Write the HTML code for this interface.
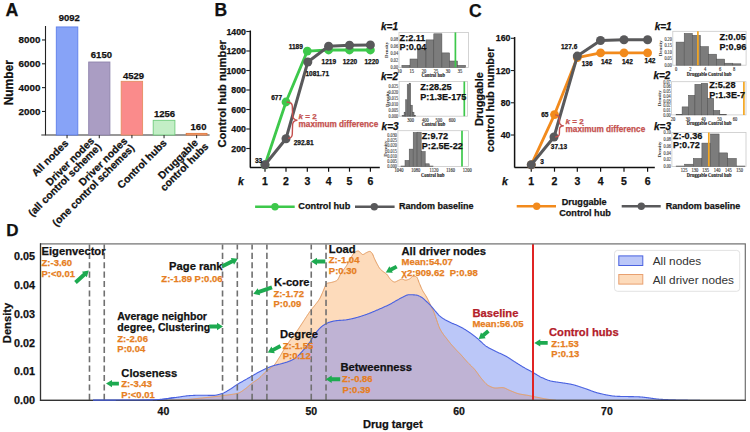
<!DOCTYPE html>
<html><head><meta charset="utf-8"><style>
html,body{margin:0;padding:0;background:#fff;}
svg{display:block;}
</style></head><body>
<svg width="750" height="432" viewBox="0 0 750 432">
<rect width="750" height="432" fill="#fff"/>
<text x="5.60" y="16.20" font-family='"Liberation Sans", sans-serif' font-size="17.8" font-weight="bold" font-style="normal" fill="#111" text-anchor="start" stroke="#111" stroke-width="0.25" >A</text>
<line x1="45.50" y1="26.00" x2="45.50" y2="135.30" stroke="#222" stroke-width="1.1" />
<line x1="41.30" y1="135.00" x2="209.60" y2="135.00" stroke="#333" stroke-width="1.2" />
<line x1="42.00" y1="111.47" x2="45.50" y2="111.47" stroke="#222" stroke-width="1.1" />
<text x="40.40" y="114.57" font-family='"Liberation Sans", sans-serif' font-size="9.8" font-weight="bold" font-style="normal" fill="#111" text-anchor="end" stroke="#111" stroke-width="0.25" >2000</text>
<line x1="42.00" y1="87.63" x2="45.50" y2="87.63" stroke="#222" stroke-width="1.1" />
<text x="40.40" y="90.73" font-family='"Liberation Sans", sans-serif' font-size="9.8" font-weight="bold" font-style="normal" fill="#111" text-anchor="end" stroke="#111" stroke-width="0.25" >4000</text>
<line x1="42.00" y1="63.80" x2="45.50" y2="63.80" stroke="#222" stroke-width="1.1" />
<text x="40.40" y="66.90" font-family='"Liberation Sans", sans-serif' font-size="9.8" font-weight="bold" font-style="normal" fill="#111" text-anchor="end" stroke="#111" stroke-width="0.25" >6000</text>
<line x1="42.00" y1="39.96" x2="45.50" y2="39.96" stroke="#222" stroke-width="1.1" />
<text x="40.40" y="43.06" font-family='"Liberation Sans", sans-serif' font-size="9.8" font-weight="bold" font-style="normal" fill="#111" text-anchor="end" stroke="#111" stroke-width="0.25" >8000</text>
<text x="0.00" y="0.00" font-family='"Liberation Sans", sans-serif' font-size="12" font-weight="bold" font-style="normal" fill="#111" text-anchor="middle" stroke="#111" stroke-width="0.25" transform="translate(13.2,82.7) rotate(-90)">Number</text>
<rect x="56.30" y="26.95" width="21.50" height="108.05" fill="#87A3F7" stroke="#5E7FEA" stroke-width="0.9" />
<text x="69.30" y="20.80" font-family='"Liberation Sans", sans-serif' font-size="9.5" font-weight="bold" font-style="normal" fill="#111" text-anchor="middle" stroke="#111" stroke-width="0.25" >9092</text>
<line x1="67.05" y1="135.00" x2="67.05" y2="138.30" stroke="#333" stroke-width="1.1" />
<rect x="88.70" y="62.01" width="21.20" height="72.99" fill="#AA9DC3" stroke="#8E83AC" stroke-width="0.9" />
<text x="101.40" y="58.40" font-family='"Liberation Sans", sans-serif' font-size="9.5" font-weight="bold" font-style="normal" fill="#111" text-anchor="middle" stroke="#111" stroke-width="0.25" >6150</text>
<line x1="99.30" y1="135.00" x2="99.30" y2="138.30" stroke="#333" stroke-width="1.1" />
<rect x="121.20" y="81.33" width="21.40" height="53.67" fill="#FA8B8B" stroke="#E58C62" stroke-width="0.9" />
<text x="133.50" y="79.20" font-family='"Liberation Sans", sans-serif' font-size="9.5" font-weight="bold" font-style="normal" fill="#111" text-anchor="middle" stroke="#111" stroke-width="0.25" >4529</text>
<line x1="131.90" y1="135.00" x2="131.90" y2="138.30" stroke="#333" stroke-width="1.1" />
<rect x="153.20" y="120.33" width="21.70" height="14.67" fill="#C3EEC6" stroke="#6FCB7C" stroke-width="0.9" />
<text x="164.50" y="117.10" font-family='"Liberation Sans", sans-serif' font-size="9.5" font-weight="bold" font-style="normal" fill="#111" text-anchor="middle" stroke="#111" stroke-width="0.25" >1256</text>
<line x1="164.05" y1="135.00" x2="164.05" y2="138.30" stroke="#333" stroke-width="1.1" />
<rect x="186.20" y="133.39" width="20.80" height="1.61" fill="#F2A57C" stroke="#E0783E" stroke-width="0.9" />
<text x="198.50" y="130.10" font-family='"Liberation Sans", sans-serif' font-size="9.5" font-weight="bold" font-style="normal" fill="#111" text-anchor="middle" stroke="#111" stroke-width="0.25" >160</text>
<line x1="196.60" y1="135.00" x2="196.60" y2="138.30" stroke="#333" stroke-width="1.1" />
<text transform="translate(69.00,144.00) rotate(-45)" font-family='"Liberation Sans", sans-serif' font-size="10.4" font-weight="bold" fill="#111" stroke="#111" stroke-width="0.25" text-anchor="end">All nodes</text>
<text transform="translate(94.90,141.50) rotate(-45)" font-family='"Liberation Sans", sans-serif' font-size="10.4" font-weight="bold" fill="#111" stroke="#111" stroke-width="0.25" text-anchor="end">Driver nodes</text>
<text transform="translate(101.90,147.60) rotate(-45)" font-family='"Liberation Sans", sans-serif' font-size="10.4" font-weight="bold" fill="#111" stroke="#111" stroke-width="0.25" text-anchor="end">(all control scheme)</text>
<text transform="translate(128.00,141.60) rotate(-45)" font-family='"Liberation Sans", sans-serif' font-size="10.4" font-weight="bold" fill="#111" stroke="#111" stroke-width="0.25" text-anchor="end">Driver nodes</text>
<text transform="translate(135.00,148.60) rotate(-45)" font-family='"Liberation Sans", sans-serif' font-size="10.4" font-weight="bold" fill="#111" stroke="#111" stroke-width="0.25" text-anchor="end">(one control schemes)</text>
<text transform="translate(167.30,143.60) rotate(-45)" font-family='"Liberation Sans", sans-serif' font-size="10.4" font-weight="bold" fill="#111" stroke="#111" stroke-width="0.25" text-anchor="end">Control hubs</text>
<text transform="translate(198.60,143.30) rotate(-45)" font-family='"Liberation Sans", sans-serif' font-size="10.4" font-weight="bold" fill="#111" stroke="#111" stroke-width="0.25" text-anchor="end">Druggable</text>
<text transform="translate(209.00,147.20) rotate(-45)" font-family='"Liberation Sans", sans-serif' font-size="10.4" font-weight="bold" fill="#111" stroke="#111" stroke-width="0.25" text-anchor="end">control hubs</text>
<text x="214.40" y="15.50" font-family='"Liberation Sans", sans-serif' font-size="17.5" font-weight="bold" font-style="normal" fill="#111" text-anchor="start" stroke="#111" stroke-width="0.25" >B</text>
<line x1="250.30" y1="30.50" x2="250.30" y2="167.60" stroke="#111" stroke-width="1.5" />
<line x1="250.00" y1="167.40" x2="379.80" y2="167.40" stroke="#111" stroke-width="1.5" />
<line x1="246.30" y1="148.50" x2="250.00" y2="148.50" stroke="#222" stroke-width="1.1" />
<text x="246.00" y="151.70" font-family='"Liberation Sans", sans-serif' font-size="8.8" font-weight="bold" font-style="normal" fill="#111" text-anchor="end" stroke="#111" stroke-width="0.25" >200</text>
<line x1="246.30" y1="129.00" x2="250.00" y2="129.00" stroke="#222" stroke-width="1.1" />
<text x="246.00" y="132.20" font-family='"Liberation Sans", sans-serif' font-size="8.8" font-weight="bold" font-style="normal" fill="#111" text-anchor="end" stroke="#111" stroke-width="0.25" >400</text>
<line x1="246.30" y1="109.50" x2="250.00" y2="109.50" stroke="#222" stroke-width="1.1" />
<text x="246.00" y="112.70" font-family='"Liberation Sans", sans-serif' font-size="8.8" font-weight="bold" font-style="normal" fill="#111" text-anchor="end" stroke="#111" stroke-width="0.25" >600</text>
<line x1="246.30" y1="90.00" x2="250.00" y2="90.00" stroke="#222" stroke-width="1.1" />
<text x="246.00" y="93.20" font-family='"Liberation Sans", sans-serif' font-size="8.8" font-weight="bold" font-style="normal" fill="#111" text-anchor="end" stroke="#111" stroke-width="0.25" >800</text>
<line x1="246.30" y1="70.50" x2="250.00" y2="70.50" stroke="#222" stroke-width="1.1" />
<text x="246.00" y="73.70" font-family='"Liberation Sans", sans-serif' font-size="8.8" font-weight="bold" font-style="normal" fill="#111" text-anchor="end" stroke="#111" stroke-width="0.25" >1000</text>
<line x1="246.30" y1="51.00" x2="250.00" y2="51.00" stroke="#222" stroke-width="1.1" />
<text x="246.00" y="54.20" font-family='"Liberation Sans", sans-serif' font-size="8.8" font-weight="bold" font-style="normal" fill="#111" text-anchor="end" stroke="#111" stroke-width="0.25" >1200</text>
<line x1="246.30" y1="31.50" x2="250.00" y2="31.50" stroke="#222" stroke-width="1.1" />
<text x="246.00" y="34.70" font-family='"Liberation Sans", sans-serif' font-size="8.8" font-weight="bold" font-style="normal" fill="#111" text-anchor="end" stroke="#111" stroke-width="0.25" >1400</text>
<text x="0.00" y="0.00" font-family='"Liberation Sans", sans-serif' font-size="11.2" font-weight="bold" font-style="normal" fill="#111" text-anchor="middle" stroke="#111" stroke-width="0.25" transform="translate(226.0,93.8) rotate(-90)">Control hub number</text>
<line x1="265.00" y1="167.40" x2="265.00" y2="171.70" stroke="#111" stroke-width="1.2" />
<text x="265.00" y="184.50" font-family='"Liberation Sans", sans-serif' font-size="10.5" font-weight="bold" font-style="normal" fill="#111" text-anchor="middle" stroke="#111" stroke-width="0.25" >1</text>
<line x1="286.00" y1="167.40" x2="286.00" y2="171.70" stroke="#111" stroke-width="1.2" />
<text x="286.00" y="184.50" font-family='"Liberation Sans", sans-serif' font-size="10.5" font-weight="bold" font-style="normal" fill="#111" text-anchor="middle" stroke="#111" stroke-width="0.25" >2</text>
<line x1="307.30" y1="167.40" x2="307.30" y2="171.70" stroke="#111" stroke-width="1.2" />
<text x="307.30" y="184.50" font-family='"Liberation Sans", sans-serif' font-size="10.5" font-weight="bold" font-style="normal" fill="#111" text-anchor="middle" stroke="#111" stroke-width="0.25" >3</text>
<line x1="328.60" y1="167.40" x2="328.60" y2="171.70" stroke="#111" stroke-width="1.2" />
<text x="328.60" y="184.50" font-family='"Liberation Sans", sans-serif' font-size="10.5" font-weight="bold" font-style="normal" fill="#111" text-anchor="middle" stroke="#111" stroke-width="0.25" >4</text>
<line x1="349.50" y1="167.40" x2="349.50" y2="171.70" stroke="#111" stroke-width="1.2" />
<text x="349.50" y="184.50" font-family='"Liberation Sans", sans-serif' font-size="10.5" font-weight="bold" font-style="normal" fill="#111" text-anchor="middle" stroke="#111" stroke-width="0.25" >5</text>
<line x1="370.40" y1="167.40" x2="370.40" y2="171.70" stroke="#111" stroke-width="1.2" />
<text x="370.40" y="184.50" font-family='"Liberation Sans", sans-serif' font-size="10.5" font-weight="bold" font-style="normal" fill="#111" text-anchor="middle" stroke="#111" stroke-width="0.25" >6</text>
<text x="240.80" y="184.50" font-family='"Liberation Sans", sans-serif' font-size="10.5" font-weight="bold" font-style="italic" fill="#111" text-anchor="middle" stroke="#111" stroke-width="0.25" >k</text>
<polyline points="265,164.8 286,102 307.3,51.1 328.6,50 349.5,50 370.4,50" fill="none" stroke="#3DC84B" stroke-width="2.8" stroke-linejoin="round"/>
<circle cx="265.00" cy="164.80" r="4.4" fill="#3DC84B"/>
<circle cx="286.00" cy="102.00" r="4.4" fill="#3DC84B"/>
<circle cx="307.30" cy="51.10" r="4.4" fill="#3DC84B"/>
<circle cx="328.60" cy="50.00" r="4.4" fill="#3DC84B"/>
<circle cx="349.50" cy="50.00" r="4.4" fill="#3DC84B"/>
<circle cx="370.40" cy="50.00" r="4.4" fill="#3DC84B"/>
<polyline points="265,164.8 286,138.7 307.8,62 328.6,46.3 349.5,45.2 370.4,44.9" fill="none" stroke="#59595B" stroke-width="3" stroke-linejoin="round"/>
<circle cx="265.00" cy="164.80" r="4.5" fill="#59595B"/>
<circle cx="286.00" cy="138.70" r="4.5" fill="#59595B"/>
<circle cx="307.80" cy="62.00" r="4.5" fill="#59595B"/>
<circle cx="328.60" cy="46.30" r="4.5" fill="#59595B"/>
<circle cx="349.50" cy="45.20" r="4.5" fill="#59595B"/>
<circle cx="370.40" cy="44.90" r="4.5" fill="#59595B"/>
<text x="255.00" y="162.60" font-family='"Liberation Sans", sans-serif' font-size="6.5" font-weight="bold" font-style="normal" fill="#111" text-anchor="start" stroke="#111" stroke-width="0.25" >33</text>
<text x="271.20" y="100.30" font-family='"Liberation Sans", sans-serif' font-size="6.5" font-weight="bold" font-style="normal" fill="#111" text-anchor="start" stroke="#111" stroke-width="0.25" >677</text>
<text x="288.70" y="48.60" font-family='"Liberation Sans", sans-serif' font-size="6.5" font-weight="bold" font-style="normal" fill="#111" text-anchor="start" stroke="#111" stroke-width="0.25" >1189</text>
<text x="305.50" y="75.60" font-family='"Liberation Sans", sans-serif' font-size="6.5" font-weight="bold" font-style="normal" fill="#111" text-anchor="start" stroke="#111" stroke-width="0.25" >1081.71</text>
<text x="293.70" y="145.40" font-family='"Liberation Sans", sans-serif' font-size="6.5" font-weight="bold" font-style="normal" fill="#111" text-anchor="start" stroke="#111" stroke-width="0.25" >292.81</text>
<text x="328.80" y="63.80" font-family='"Liberation Sans", sans-serif' font-size="6.5" font-weight="bold" font-style="normal" fill="#111" text-anchor="middle" stroke="#111" stroke-width="0.25" >1219</text>
<text x="349.90" y="63.80" font-family='"Liberation Sans", sans-serif' font-size="6.5" font-weight="bold" font-style="normal" fill="#111" text-anchor="middle" stroke="#111" stroke-width="0.25" >1220</text>
<text x="371.70" y="63.80" font-family='"Liberation Sans", sans-serif' font-size="6.5" font-weight="bold" font-style="normal" fill="#111" text-anchor="middle" stroke="#111" stroke-width="0.25" >1220</text>
<path d="M286.6,102 Q292.3,102.3 292.3,106 L292.6,115.5 Q292.8,119.8 297.4,120.2 Q292.8,120.6 292.6,124.5 L292.3,134 Q292.2,138 288.2,138.4" fill="none" stroke="#C4504E" stroke-width="1.4"/>
<text x="298.60" y="118.60" font-family='"Liberation Sans", sans-serif' font-size="8" font-weight="bold" font-style="normal" fill="#C4504E" text-anchor="start" stroke="#C4504E" stroke-width="0.25" ><tspan font-style="italic">k</tspan> = 2</text>
<text x="298.60" y="126.80" font-family='"Liberation Sans", sans-serif' font-size="8.2" font-weight="bold" font-style="normal" fill="#C4504E" text-anchor="start" stroke="#C4504E" stroke-width="0.25" >maximum difference</text>
<line x1="255.10" y1="206.70" x2="294.70" y2="206.70" stroke="#3DC84B" stroke-width="2.6" />
<circle cx="275.00" cy="206.70" r="3.7" fill="#3DC84B"/>
<text x="298.30" y="209.20" font-family='"Liberation Sans", sans-serif' font-size="9.2" font-weight="bold" font-style="normal" fill="#111" text-anchor="start" stroke="#111" stroke-width="0.25" >Control hub</text>
<line x1="355.00" y1="206.70" x2="394.60" y2="206.70" stroke="#59595B" stroke-width="2.6" />
<circle cx="374.30" cy="206.70" r="3.7" fill="#59595B"/>
<text x="399.10" y="209.20" font-family='"Liberation Sans", sans-serif' font-size="9.0" font-weight="bold" font-style="normal" fill="#111" text-anchor="start" stroke="#111" stroke-width="0.25" >Random baseline</text>
<rect x="399.00" y="32.40" width="69.50" height="35.00" fill="#fff" stroke="#C9C9C9" stroke-width="0.8" />
<rect x="401.90" y="65.30" width="8.10" height="2.10" fill="#7C7C7C" stroke="#4E4E4E" stroke-width="0.5" />
<rect x="410.00" y="59.00" width="7.60" height="8.40" fill="#7C7C7C" stroke="#4E4E4E" stroke-width="0.5" />
<rect x="417.60" y="48.30" width="8.40" height="19.10" fill="#7C7C7C" stroke="#4E4E4E" stroke-width="0.5" />
<rect x="426.00" y="39.90" width="7.80" height="27.50" fill="#7C7C7C" stroke="#4E4E4E" stroke-width="0.5" />
<rect x="433.80" y="33.80" width="8.10" height="33.60" fill="#7C7C7C" stroke="#4E4E4E" stroke-width="0.5" />
<rect x="441.90" y="52.90" width="7.70" height="14.50" fill="#7C7C7C" stroke="#4E4E4E" stroke-width="0.5" />
<rect x="449.60" y="61.00" width="7.90" height="6.40" fill="#7C7C7C" stroke="#4E4E4E" stroke-width="0.5" />
<rect x="457.50" y="65.30" width="8.10" height="2.10" fill="#7C7C7C" stroke="#4E4E4E" stroke-width="0.5" />
<line x1="455.40" y1="32.40" x2="455.40" y2="67.40" stroke="#3DC84B" stroke-width="1.7" />
<text x="399.60" y="40.80" font-family='"Liberation Sans", sans-serif' font-size="9.1" font-weight="bold" font-style="normal" fill="#111" text-anchor="start" stroke="#111" stroke-width="0.25" >Z:2.11</text>
<text x="399.60" y="50.10" font-family='"Liberation Sans", sans-serif' font-size="9.1" font-weight="bold" font-style="normal" fill="#111" text-anchor="start" stroke="#111" stroke-width="0.25" >P:0.04</text>
<text x="381.00" y="29.60" font-family='"Liberation Sans", sans-serif' font-size="10" font-weight="bold" font-style="italic" fill="#111" text-anchor="start" stroke="#111" stroke-width="0.25" >k=1</text>
<text x="0.00" y="0.00" font-family='"Liberation Serif", serif' font-size="4.5" font-weight="normal" font-style="normal" fill="#333" text-anchor="middle" stroke="#333" stroke-width="0.12" transform="translate(399.60,73.00) scale(1,1.2)">10</text>
<text x="0.00" y="0.00" font-family='"Liberation Serif", serif' font-size="4.5" font-weight="normal" font-style="normal" fill="#333" text-anchor="middle" stroke="#333" stroke-width="0.12" transform="translate(411.80,73.00) scale(1,1.2)">15</text>
<text x="0.00" y="0.00" font-family='"Liberation Serif", serif' font-size="4.5" font-weight="normal" font-style="normal" fill="#333" text-anchor="middle" stroke="#333" stroke-width="0.12" transform="translate(423.90,73.00) scale(1,1.2)">20</text>
<text x="0.00" y="0.00" font-family='"Liberation Serif", serif' font-size="4.5" font-weight="normal" font-style="normal" fill="#333" text-anchor="middle" stroke="#333" stroke-width="0.12" transform="translate(436.00,73.00) scale(1,1.2)">25</text>
<text x="0.00" y="0.00" font-family='"Liberation Serif", serif' font-size="4.5" font-weight="normal" font-style="normal" fill="#333" text-anchor="middle" stroke="#333" stroke-width="0.12" transform="translate(448.00,73.00) scale(1,1.2)">30</text>
<text x="0.00" y="0.00" font-family='"Liberation Serif", serif' font-size="4.5" font-weight="normal" font-style="normal" fill="#333" text-anchor="middle" stroke="#333" stroke-width="0.12" transform="translate(460.00,73.00) scale(1,1.2)">35</text>
<text x="0.00" y="0.00" font-family='"Liberation Serif", serif' font-size="4.5" font-weight="bold" font-style="normal" fill="#222" text-anchor="middle" stroke="#222" stroke-width="0.1" transform="translate(433.20,77.20) scale(1,1.15)">Control hub</text>
<text transform="translate(388.40,49.90) rotate(-90)" font-family='"Liberation Serif", serif' font-size="5" font-weight="bold" fill="#333" text-anchor="middle">Density</text>
<text x="0.00" y="0.00" font-family='"Liberation Serif", serif' font-size="4.3" font-weight="normal" font-style="normal" fill="#444" text-anchor="end" stroke="#444" stroke-width="0.1" transform="translate(398.10,69.10) scale(1,1.2)">0.00</text>
<text x="0.00" y="0.00" font-family='"Liberation Serif", serif' font-size="4.3" font-weight="normal" font-style="normal" fill="#444" text-anchor="end" stroke="#444" stroke-width="0.1" transform="translate(398.10,62.00) scale(1,1.2)">0.02</text>
<text x="0.00" y="0.00" font-family='"Liberation Serif", serif' font-size="4.3" font-weight="normal" font-style="normal" fill="#444" text-anchor="end" stroke="#444" stroke-width="0.1" transform="translate(398.10,54.90) scale(1,1.2)">0.04</text>
<text x="0.00" y="0.00" font-family='"Liberation Serif", serif' font-size="4.3" font-weight="normal" font-style="normal" fill="#444" text-anchor="end" stroke="#444" stroke-width="0.1" transform="translate(398.10,47.80) scale(1,1.2)">0.06</text>
<text x="0.00" y="0.00" font-family='"Liberation Serif", serif' font-size="4.3" font-weight="normal" font-style="normal" fill="#444" text-anchor="end" stroke="#444" stroke-width="0.1" transform="translate(398.10,40.70) scale(1,1.2)">0.08</text>
<rect x="399.10" y="81.50" width="68.40" height="34.70" fill="#fff" stroke="#C9C9C9" stroke-width="0.8" />
<rect x="402.10" y="115.30" width="2.00" height="0.90" fill="#7C7C7C" stroke="#4E4E4E" stroke-width="0.5" />
<rect x="404.10" y="112.20" width="1.50" height="4.00" fill="#7C7C7C" stroke="#4E4E4E" stroke-width="0.5" />
<rect x="405.60" y="99.80" width="1.60" height="16.40" fill="#7C7C7C" stroke="#4E4E4E" stroke-width="0.5" />
<rect x="407.20" y="84.70" width="1.90" height="31.50" fill="#7C7C7C" stroke="#4E4E4E" stroke-width="0.5" />
<rect x="409.10" y="83.20" width="1.60" height="33.00" fill="#7C7C7C" stroke="#4E4E4E" stroke-width="0.5" />
<rect x="410.70" y="105.20" width="1.60" height="11.00" fill="#7C7C7C" stroke="#4E4E4E" stroke-width="0.5" />
<rect x="412.30" y="112.20" width="1.70" height="4.00" fill="#7C7C7C" stroke="#4E4E4E" stroke-width="0.5" />
<rect x="414.00" y="115.30" width="1.70" height="0.90" fill="#7C7C7C" stroke="#4E4E4E" stroke-width="0.5" />
<line x1="464.30" y1="81.50" x2="464.30" y2="116.20" stroke="#3DC84B" stroke-width="1.7" />
<text x="420.30" y="90.20" font-family='"Liberation Sans", sans-serif' font-size="9.1" font-weight="bold" font-style="normal" fill="#111" text-anchor="start" stroke="#111" stroke-width="0.25" >Z:28.25</text>
<text x="420.30" y="100.00" font-family='"Liberation Sans", sans-serif' font-size="9.1" font-weight="bold" font-style="normal" fill="#111" text-anchor="start" stroke="#111" stroke-width="0.25" >P:1.3E-175</text>
<text x="381.00" y="79.50" font-family='"Liberation Sans", sans-serif' font-size="10" font-weight="bold" font-style="italic" fill="#111" text-anchor="start" stroke="#111" stroke-width="0.25" >k=2</text>
<text x="0.00" y="0.00" font-family='"Liberation Serif", serif' font-size="4.5" font-weight="normal" font-style="normal" fill="#333" text-anchor="middle" stroke="#333" stroke-width="0.12" transform="translate(410.50,121.80) scale(1,1.2)">300</text>
<text x="0.00" y="0.00" font-family='"Liberation Serif", serif' font-size="4.5" font-weight="normal" font-style="normal" fill="#333" text-anchor="middle" stroke="#333" stroke-width="0.12" transform="translate(425.30,121.80) scale(1,1.2)">400</text>
<text x="0.00" y="0.00" font-family='"Liberation Serif", serif' font-size="4.5" font-weight="normal" font-style="normal" fill="#333" text-anchor="middle" stroke="#333" stroke-width="0.12" transform="translate(438.80,121.80) scale(1,1.2)">500</text>
<text x="0.00" y="0.00" font-family='"Liberation Serif", serif' font-size="4.5" font-weight="normal" font-style="normal" fill="#333" text-anchor="middle" stroke="#333" stroke-width="0.12" transform="translate(452.20,121.80) scale(1,1.2)">600</text>
<text x="0.00" y="0.00" font-family='"Liberation Serif", serif' font-size="4.5" font-weight="bold" font-style="normal" fill="#222" text-anchor="middle" stroke="#222" stroke-width="0.1" transform="translate(433.40,126.00) scale(1,1.15)">Control hub</text>
<text transform="translate(388.50,98.85) rotate(-90)" font-family='"Liberation Serif", serif' font-size="5" font-weight="bold" fill="#333" text-anchor="middle">Density</text>
<text x="0.00" y="0.00" font-family='"Liberation Serif", serif' font-size="4.3" font-weight="normal" font-style="normal" fill="#444" text-anchor="end" stroke="#444" stroke-width="0.1" transform="translate(398.20,117.90) scale(1,1.2)">0.000</text>
<text x="0.00" y="0.00" font-family='"Liberation Serif", serif' font-size="4.3" font-weight="normal" font-style="normal" fill="#444" text-anchor="end" stroke="#444" stroke-width="0.1" transform="translate(398.20,112.00) scale(1,1.2)">0.005</text>
<text x="0.00" y="0.00" font-family='"Liberation Serif", serif' font-size="4.3" font-weight="normal" font-style="normal" fill="#444" text-anchor="end" stroke="#444" stroke-width="0.1" transform="translate(398.20,106.10) scale(1,1.2)">0.010</text>
<text x="0.00" y="0.00" font-family='"Liberation Serif", serif' font-size="4.3" font-weight="normal" font-style="normal" fill="#444" text-anchor="end" stroke="#444" stroke-width="0.1" transform="translate(398.20,100.20) scale(1,1.2)">0.015</text>
<text x="0.00" y="0.00" font-family='"Liberation Serif", serif' font-size="4.3" font-weight="normal" font-style="normal" fill="#444" text-anchor="end" stroke="#444" stroke-width="0.1" transform="translate(398.20,94.30) scale(1,1.2)">0.020</text>
<text x="0.00" y="0.00" font-family='"Liberation Serif", serif' font-size="4.3" font-weight="normal" font-style="normal" fill="#444" text-anchor="end" stroke="#444" stroke-width="0.1" transform="translate(398.20,88.40) scale(1,1.2)">0.025</text>
<rect x="397.90" y="130.70" width="70.50" height="35.80" fill="#fff" stroke="#C9C9C9" stroke-width="0.8" />
<rect x="400.90" y="166.00" width="4.10" height="0.50" fill="#7C7C7C" stroke="#4E4E4E" stroke-width="0.5" />
<rect x="405.00" y="160.40" width="4.20" height="6.10" fill="#7C7C7C" stroke="#4E4E4E" stroke-width="0.5" />
<rect x="409.20" y="149.10" width="4.00" height="17.40" fill="#7C7C7C" stroke="#4E4E4E" stroke-width="0.5" />
<rect x="413.20" y="132.50" width="3.90" height="34.00" fill="#7C7C7C" stroke="#4E4E4E" stroke-width="0.5" />
<rect x="417.10" y="132.20" width="4.10" height="34.30" fill="#7C7C7C" stroke="#4E4E4E" stroke-width="0.5" />
<rect x="421.20" y="151.50" width="4.00" height="15.00" fill="#7C7C7C" stroke="#4E4E4E" stroke-width="0.5" />
<rect x="425.20" y="163.80" width="4.00" height="2.70" fill="#7C7C7C" stroke="#4E4E4E" stroke-width="0.5" />
<rect x="429.20" y="166.00" width="3.90" height="0.50" fill="#7C7C7C" stroke="#4E4E4E" stroke-width="0.5" />
<line x1="462.00" y1="130.70" x2="462.00" y2="166.50" stroke="#3DC84B" stroke-width="1.7" />
<text x="421.80" y="139.00" font-family='"Liberation Sans", sans-serif' font-size="9.1" font-weight="bold" font-style="normal" fill="#111" text-anchor="start" stroke="#111" stroke-width="0.25" >Z:9.72</text>
<text x="421.80" y="148.80" font-family='"Liberation Sans", sans-serif' font-size="9.1" font-weight="bold" font-style="normal" fill="#111" text-anchor="start" stroke="#111" stroke-width="0.25" >P:2.5E-22</text>
<text x="381.60" y="129.50" font-family='"Liberation Sans", sans-serif' font-size="10" font-weight="bold" font-style="italic" fill="#111" text-anchor="start" stroke="#111" stroke-width="0.25" >k=3</text>
<text x="0.00" y="0.00" font-family='"Liberation Serif", serif' font-size="4.5" font-weight="normal" font-style="normal" fill="#333" text-anchor="middle" stroke="#333" stroke-width="0.12" transform="translate(399.10,172.10) scale(1,1.2)">1040</text>
<text x="0.00" y="0.00" font-family='"Liberation Serif", serif' font-size="4.5" font-weight="normal" font-style="normal" fill="#333" text-anchor="middle" stroke="#333" stroke-width="0.12" transform="translate(415.70,172.10) scale(1,1.2)">1080</text>
<text x="0.00" y="0.00" font-family='"Liberation Serif", serif' font-size="4.5" font-weight="normal" font-style="normal" fill="#333" text-anchor="middle" stroke="#333" stroke-width="0.12" transform="translate(434.00,172.10) scale(1,1.2)">1120</text>
<text x="0.00" y="0.00" font-family='"Liberation Serif", serif' font-size="4.5" font-weight="normal" font-style="normal" fill="#333" text-anchor="middle" stroke="#333" stroke-width="0.12" transform="translate(450.60,172.10) scale(1,1.2)">1160</text>
<text x="0.00" y="0.00" font-family='"Liberation Serif", serif' font-size="4.5" font-weight="normal" font-style="normal" fill="#333" text-anchor="middle" stroke="#333" stroke-width="0.12" transform="translate(467.20,172.10) scale(1,1.2)">1200</text>
<text x="0.00" y="0.00" font-family='"Liberation Serif", serif' font-size="4.5" font-weight="bold" font-style="normal" fill="#222" text-anchor="middle" stroke="#222" stroke-width="0.1" transform="translate(432.80,177.10) scale(1,1.15)">Control hub</text>
<text transform="translate(387.30,148.60) rotate(-90)" font-family='"Liberation Serif", serif' font-size="5" font-weight="bold" fill="#333" text-anchor="middle">Density</text>
<text x="0.00" y="0.00" font-family='"Liberation Serif", serif' font-size="4.3" font-weight="normal" font-style="normal" fill="#444" text-anchor="end" stroke="#444" stroke-width="0.1" transform="translate(397.00,168.20) scale(1,1.2)">0.000</text>
<text x="0.00" y="0.00" font-family='"Liberation Serif", serif' font-size="4.3" font-weight="normal" font-style="normal" fill="#444" text-anchor="end" stroke="#444" stroke-width="0.1" transform="translate(397.00,163.00) scale(1,1.2)">0.005</text>
<text x="0.00" y="0.00" font-family='"Liberation Serif", serif' font-size="4.3" font-weight="normal" font-style="normal" fill="#444" text-anchor="end" stroke="#444" stroke-width="0.1" transform="translate(397.00,157.80) scale(1,1.2)">0.010</text>
<text x="0.00" y="0.00" font-family='"Liberation Serif", serif' font-size="4.3" font-weight="normal" font-style="normal" fill="#444" text-anchor="end" stroke="#444" stroke-width="0.1" transform="translate(397.00,152.60) scale(1,1.2)">0.015</text>
<text x="0.00" y="0.00" font-family='"Liberation Serif", serif' font-size="4.3" font-weight="normal" font-style="normal" fill="#444" text-anchor="end" stroke="#444" stroke-width="0.1" transform="translate(397.00,147.40) scale(1,1.2)">0.020</text>
<text x="0.00" y="0.00" font-family='"Liberation Serif", serif' font-size="4.3" font-weight="normal" font-style="normal" fill="#444" text-anchor="end" stroke="#444" stroke-width="0.1" transform="translate(397.00,142.20) scale(1,1.2)">0.025</text>
<text x="0.00" y="0.00" font-family='"Liberation Serif", serif' font-size="4.3" font-weight="normal" font-style="normal" fill="#444" text-anchor="end" stroke="#444" stroke-width="0.1" transform="translate(397.00,137.00) scale(1,1.2)">0.030</text>
<text x="469.00" y="16.60" font-family='"Liberation Sans", sans-serif' font-size="17.5" font-weight="bold" font-style="normal" fill="#111" text-anchor="start" stroke="#111" stroke-width="0.25" >C</text>
<line x1="514.60" y1="37.00" x2="514.60" y2="167.60" stroke="#111" stroke-width="1.5" />
<line x1="514.50" y1="167.40" x2="654.80" y2="167.40" stroke="#111" stroke-width="1.5" />
<line x1="510.80" y1="135.01" x2="514.50" y2="135.01" stroke="#222" stroke-width="1.1" />
<text x="510.50" y="138.21" font-family='"Liberation Sans", sans-serif' font-size="8.8" font-weight="bold" font-style="normal" fill="#111" text-anchor="end" stroke="#111" stroke-width="0.25" >40</text>
<line x1="510.80" y1="102.77" x2="514.50" y2="102.77" stroke="#222" stroke-width="1.1" />
<text x="510.50" y="105.97" font-family='"Liberation Sans", sans-serif' font-size="8.8" font-weight="bold" font-style="normal" fill="#111" text-anchor="end" stroke="#111" stroke-width="0.25" >80</text>
<line x1="510.80" y1="70.53" x2="514.50" y2="70.53" stroke="#222" stroke-width="1.1" />
<text x="510.50" y="73.73" font-family='"Liberation Sans", sans-serif' font-size="8.8" font-weight="bold" font-style="normal" fill="#111" text-anchor="end" stroke="#111" stroke-width="0.25" >120</text>
<line x1="510.80" y1="38.29" x2="514.50" y2="38.29" stroke="#222" stroke-width="1.1" />
<text x="510.50" y="41.49" font-family='"Liberation Sans", sans-serif' font-size="8.8" font-weight="bold" font-style="normal" fill="#111" text-anchor="end" stroke="#111" stroke-width="0.25" >160</text>
<text transform="translate(482.5,99.2) rotate(-90)" font-family='"Liberation Sans", sans-serif' font-size="10.9" font-weight="bold" fill="#111" stroke="#111" stroke-width="0.25" text-anchor="middle">Druggable</text>
<text transform="translate(494.2,99.8) rotate(-90)" font-family='"Liberation Sans", sans-serif' font-size="11.1" font-weight="bold" fill="#111" stroke="#111" stroke-width="0.25" text-anchor="middle">control hub number</text>
<line x1="531.25" y1="167.40" x2="531.25" y2="171.70" stroke="#111" stroke-width="1.2" />
<text x="531.25" y="184.50" font-family='"Liberation Sans", sans-serif' font-size="10.5" font-weight="bold" font-style="normal" fill="#111" text-anchor="middle" stroke="#111" stroke-width="0.25" >1</text>
<line x1="554.50" y1="167.40" x2="554.50" y2="171.70" stroke="#111" stroke-width="1.2" />
<text x="554.50" y="184.50" font-family='"Liberation Sans", sans-serif' font-size="10.5" font-weight="bold" font-style="normal" fill="#111" text-anchor="middle" stroke="#111" stroke-width="0.25" >2</text>
<line x1="577.30" y1="167.40" x2="577.30" y2="171.70" stroke="#111" stroke-width="1.2" />
<text x="577.30" y="184.50" font-family='"Liberation Sans", sans-serif' font-size="10.5" font-weight="bold" font-style="normal" fill="#111" text-anchor="middle" stroke="#111" stroke-width="0.25" >3</text>
<line x1="600.60" y1="167.40" x2="600.60" y2="171.70" stroke="#111" stroke-width="1.2" />
<text x="600.60" y="184.50" font-family='"Liberation Sans", sans-serif' font-size="10.5" font-weight="bold" font-style="normal" fill="#111" text-anchor="middle" stroke="#111" stroke-width="0.25" >4</text>
<line x1="624.00" y1="167.40" x2="624.00" y2="171.70" stroke="#111" stroke-width="1.2" />
<text x="624.00" y="184.50" font-family='"Liberation Sans", sans-serif' font-size="10.5" font-weight="bold" font-style="normal" fill="#111" text-anchor="middle" stroke="#111" stroke-width="0.25" >5</text>
<line x1="647.60" y1="167.40" x2="647.60" y2="171.70" stroke="#111" stroke-width="1.2" />
<text x="647.60" y="184.50" font-family='"Liberation Sans", sans-serif' font-size="10.5" font-weight="bold" font-style="normal" fill="#111" text-anchor="middle" stroke="#111" stroke-width="0.25" >6</text>
<text x="505.00" y="184.50" font-family='"Liberation Sans", sans-serif' font-size="10.5" font-weight="bold" font-style="italic" fill="#111" text-anchor="middle" stroke="#111" stroke-width="0.25" >k</text>
<polyline points="531.25,164.8 554.5,114.6 577.3,57.6 600.6,52.8 624,52.8 647.6,52.8" fill="none" stroke="#F28A1C" stroke-width="2.8" stroke-linejoin="round"/>
<circle cx="531.25" cy="164.80" r="4.4" fill="#F28A1C"/>
<circle cx="554.50" cy="114.60" r="4.4" fill="#F28A1C"/>
<circle cx="577.30" cy="57.60" r="4.4" fill="#F28A1C"/>
<circle cx="600.60" cy="52.80" r="4.4" fill="#F28A1C"/>
<circle cx="624.00" cy="52.80" r="4.4" fill="#F28A1C"/>
<circle cx="647.60" cy="52.80" r="4.4" fill="#F28A1C"/>
<polyline points="531.25,164.8 554.0,137 577.3,56.1 600.5,40.5 624,39.8 647.6,39.8" fill="none" stroke="#59595B" stroke-width="3" stroke-linejoin="round"/>
<circle cx="531.25" cy="164.80" r="4.5" fill="#59595B"/>
<circle cx="554.00" cy="137.00" r="4.5" fill="#59595B"/>
<circle cx="577.30" cy="56.10" r="4.5" fill="#59595B"/>
<circle cx="600.50" cy="40.50" r="4.5" fill="#59595B"/>
<circle cx="624.00" cy="39.80" r="4.5" fill="#59595B"/>
<circle cx="647.60" cy="39.80" r="4.5" fill="#59595B"/>
<text x="540.20" y="163.80" font-family='"Liberation Sans", sans-serif' font-size="6.5" font-weight="bold" font-style="normal" fill="#111" text-anchor="start" stroke="#111" stroke-width="0.25" >3</text>
<text x="541.20" y="116.80" font-family='"Liberation Sans", sans-serif' font-size="6.5" font-weight="bold" font-style="normal" fill="#111" text-anchor="start" stroke="#111" stroke-width="0.25" >65</text>
<text x="550.80" y="149.00" font-family='"Liberation Sans", sans-serif' font-size="6.5" font-weight="bold" font-style="normal" fill="#111" text-anchor="start" stroke="#111" stroke-width="0.25" >37.13</text>
<text x="561.00" y="49.00" font-family='"Liberation Sans", sans-serif' font-size="6.5" font-weight="bold" font-style="normal" fill="#111" text-anchor="start" stroke="#111" stroke-width="0.25" >127.6</text>
<text x="581.70" y="65.50" font-family='"Liberation Sans", sans-serif' font-size="6.5" font-weight="bold" font-style="normal" fill="#111" text-anchor="start" stroke="#111" stroke-width="0.25" >136</text>
<text x="606.40" y="64.20" font-family='"Liberation Sans", sans-serif' font-size="6.5" font-weight="bold" font-style="normal" fill="#111" text-anchor="middle" stroke="#111" stroke-width="0.25" >142</text>
<text x="627.40" y="64.20" font-family='"Liberation Sans", sans-serif' font-size="6.5" font-weight="bold" font-style="normal" fill="#111" text-anchor="middle" stroke="#111" stroke-width="0.25" >142</text>
<text x="650.00" y="63.30" font-family='"Liberation Sans", sans-serif' font-size="6.5" font-weight="bold" font-style="normal" fill="#111" text-anchor="middle" stroke="#111" stroke-width="0.25" >142</text>
<path d="M555.2,114.9 Q559.3,115.2 559.4,118.5 L559.5,122.5 Q559.7,125.5 563.7,125.8 Q559.7,126.1 559.5,129 L559.4,133.5 Q559.3,136.8 555.2,137" fill="none" stroke="#C4504E" stroke-width="1.4"/>
<text x="565.60" y="124.20" font-family='"Liberation Sans", sans-serif' font-size="8" font-weight="bold" font-style="normal" fill="#C4504E" text-anchor="start" stroke="#C4504E" stroke-width="0.25" ><tspan font-style="italic">k</tspan> = 2</text>
<text x="565.60" y="131.90" font-family='"Liberation Sans", sans-serif' font-size="8.2" font-weight="bold" font-style="normal" fill="#C4504E" text-anchor="start" stroke="#C4504E" stroke-width="0.25" >maximum difference</text>
<line x1="516.70" y1="206.20" x2="556.00" y2="206.20" stroke="#F28A1C" stroke-width="2.6" />
<circle cx="536.70" cy="206.20" r="3.7" fill="#F28A1C"/>
<text x="584.20" y="204.50" font-family='"Liberation Sans", sans-serif' font-size="9.1" font-weight="bold" font-style="normal" fill="#111" text-anchor="middle" stroke="#111" stroke-width="0.25" >Druggable</text>
<text x="585.00" y="216.20" font-family='"Liberation Sans", sans-serif' font-size="9.1" font-weight="bold" font-style="normal" fill="#111" text-anchor="middle" stroke="#111" stroke-width="0.25" >Control hub</text>
<line x1="621.70" y1="206.20" x2="660.70" y2="206.20" stroke="#59595B" stroke-width="2.6" />
<circle cx="641.30" cy="206.20" r="3.7" fill="#59595B"/>
<text x="665.70" y="209.20" font-family='"Liberation Sans", sans-serif' font-size="9.0" font-weight="bold" font-style="normal" fill="#111" text-anchor="start" stroke="#111" stroke-width="0.25" >Random baseline</text>
<rect x="672.80" y="31.30" width="73.30" height="33.90" fill="#fff" stroke="#C9C9C9" stroke-width="0.8" />
<rect x="676.10" y="42.10" width="8.10" height="23.10" fill="#7C7C7C" stroke="#4E4E4E" stroke-width="0.5" />
<rect x="684.20" y="33.40" width="8.10" height="31.80" fill="#7C7C7C" stroke="#4E4E4E" stroke-width="0.5" />
<rect x="692.30" y="35.30" width="8.10" height="29.90" fill="#7C7C7C" stroke="#4E4E4E" stroke-width="0.5" />
<rect x="700.40" y="46.60" width="8.10" height="18.60" fill="#7C7C7C" stroke="#4E4E4E" stroke-width="0.5" />
<rect x="708.50" y="54.20" width="8.10" height="11.00" fill="#7C7C7C" stroke="#4E4E4E" stroke-width="0.5" />
<rect x="716.60" y="59.10" width="8.10" height="6.10" fill="#7C7C7C" stroke="#4E4E4E" stroke-width="0.5" />
<rect x="724.70" y="63.20" width="8.10" height="2.00" fill="#7C7C7C" stroke="#4E4E4E" stroke-width="0.5" />
<rect x="732.80" y="63.80" width="8.10" height="1.40" fill="#7C7C7C" stroke="#4E4E4E" stroke-width="0.5" />
<line x1="697.90" y1="31.30" x2="697.90" y2="65.20" stroke="#F4A620" stroke-width="1.7" />
<text x="719.50" y="39.80" font-family='"Liberation Sans", sans-serif' font-size="9.1" font-weight="bold" font-style="normal" fill="#111" text-anchor="start" stroke="#111" stroke-width="0.25" >Z:0.05</text>
<text x="719.50" y="49.60" font-family='"Liberation Sans", sans-serif' font-size="9.1" font-weight="bold" font-style="normal" fill="#111" text-anchor="start" stroke="#111" stroke-width="0.25" >P:0.96</text>
<text x="654.70" y="29.60" font-family='"Liberation Sans", sans-serif' font-size="10" font-weight="bold" font-style="italic" fill="#111" text-anchor="start" stroke="#111" stroke-width="0.25" >k=1</text>
<text x="0.00" y="0.00" font-family='"Liberation Serif", serif' font-size="4.5" font-weight="normal" font-style="normal" fill="#333" text-anchor="middle" stroke="#333" stroke-width="0.12" transform="translate(676.00,70.80) scale(1,1.2)">0</text>
<text x="0.00" y="0.00" font-family='"Liberation Serif", serif' font-size="4.5" font-weight="normal" font-style="normal" fill="#333" text-anchor="middle" stroke="#333" stroke-width="0.12" transform="translate(690.40,70.80) scale(1,1.2)">2</text>
<text x="0.00" y="0.00" font-family='"Liberation Serif", serif' font-size="4.5" font-weight="normal" font-style="normal" fill="#333" text-anchor="middle" stroke="#333" stroke-width="0.12" transform="translate(705.00,70.80) scale(1,1.2)">4</text>
<text x="0.00" y="0.00" font-family='"Liberation Serif", serif' font-size="4.5" font-weight="normal" font-style="normal" fill="#333" text-anchor="middle" stroke="#333" stroke-width="0.12" transform="translate(720.00,70.80) scale(1,1.2)">6</text>
<text x="0.00" y="0.00" font-family='"Liberation Serif", serif' font-size="4.5" font-weight="normal" font-style="normal" fill="#333" text-anchor="middle" stroke="#333" stroke-width="0.12" transform="translate(734.00,70.80) scale(1,1.2)">8</text>
<text x="0.00" y="0.00" font-family='"Liberation Serif", serif' font-size="4.5" font-weight="bold" font-style="normal" fill="#222" text-anchor="middle" stroke="#222" stroke-width="0.1" transform="translate(709.20,75.70) scale(1,1.15)">Druggable Control hub</text>
<text transform="translate(662.20,48.25) rotate(-90)" font-family='"Liberation Serif", serif' font-size="5" font-weight="bold" fill="#333" text-anchor="middle">Density</text>
<text x="0.00" y="0.00" font-family='"Liberation Serif", serif' font-size="4.3" font-weight="normal" font-style="normal" fill="#444" text-anchor="end" stroke="#444" stroke-width="0.1" transform="translate(671.90,66.90) scale(1,1.2)">0.00</text>
<text x="0.00" y="0.00" font-family='"Liberation Serif", serif' font-size="4.3" font-weight="normal" font-style="normal" fill="#444" text-anchor="end" stroke="#444" stroke-width="0.1" transform="translate(671.90,60.30) scale(1,1.2)">0.05</text>
<text x="0.00" y="0.00" font-family='"Liberation Serif", serif' font-size="4.3" font-weight="normal" font-style="normal" fill="#444" text-anchor="end" stroke="#444" stroke-width="0.1" transform="translate(671.90,53.70) scale(1,1.2)">0.10</text>
<text x="0.00" y="0.00" font-family='"Liberation Serif", serif' font-size="4.3" font-weight="normal" font-style="normal" fill="#444" text-anchor="end" stroke="#444" stroke-width="0.1" transform="translate(671.90,47.10) scale(1,1.2)">0.15</text>
<text x="0.00" y="0.00" font-family='"Liberation Serif", serif' font-size="4.3" font-weight="normal" font-style="normal" fill="#444" text-anchor="end" stroke="#444" stroke-width="0.1" transform="translate(671.90,40.50) scale(1,1.2)">0.20</text>
<rect x="671.60" y="81.70" width="74.40" height="33.20" fill="#fff" stroke="#C9C9C9" stroke-width="0.8" />
<rect x="676.10" y="114.30" width="6.00" height="0.60" fill="#7C7C7C" stroke="#4E4E4E" stroke-width="0.5" />
<rect x="682.10" y="106.90" width="6.30" height="8.00" fill="#7C7C7C" stroke="#4E4E4E" stroke-width="0.5" />
<rect x="688.40" y="95.30" width="6.50" height="19.60" fill="#7C7C7C" stroke="#4E4E4E" stroke-width="0.5" />
<rect x="694.90" y="84.30" width="6.50" height="30.60" fill="#7C7C7C" stroke="#4E4E4E" stroke-width="0.5" />
<rect x="701.40" y="83.30" width="6.30" height="31.60" fill="#7C7C7C" stroke="#4E4E4E" stroke-width="0.5" />
<rect x="707.70" y="98.30" width="6.00" height="16.60" fill="#7C7C7C" stroke="#4E4E4E" stroke-width="0.5" />
<rect x="713.70" y="110.40" width="6.10" height="4.50" fill="#7C7C7C" stroke="#4E4E4E" stroke-width="0.5" />
<rect x="719.80" y="114.30" width="6.70" height="0.60" fill="#7C7C7C" stroke="#4E4E4E" stroke-width="0.5" />
<line x1="743.90" y1="81.70" x2="743.90" y2="114.90" stroke="#F4A620" stroke-width="1.7" />
<text x="709.20" y="88.40" font-family='"Liberation Sans", sans-serif' font-size="9.1" font-weight="bold" font-style="normal" fill="#111" text-anchor="start" stroke="#111" stroke-width="0.25" >Z:5.28</text>
<text x="709.20" y="98.30" font-family='"Liberation Sans", sans-serif' font-size="9.1" font-weight="bold" font-style="normal" fill="#111" text-anchor="start" stroke="#111" stroke-width="0.25" >P:1.3E-7</text>
<text x="653.40" y="78.70" font-family='"Liberation Sans", sans-serif' font-size="10" font-weight="bold" font-style="italic" fill="#111" text-anchor="start" stroke="#111" stroke-width="0.25" >k=2</text>
<text x="0.00" y="0.00" font-family='"Liberation Serif", serif' font-size="4.5" font-weight="normal" font-style="normal" fill="#333" text-anchor="middle" stroke="#333" stroke-width="0.12" transform="translate(673.00,120.50) scale(1,1.2)">20</text>
<text x="0.00" y="0.00" font-family='"Liberation Serif", serif' font-size="4.5" font-weight="normal" font-style="normal" fill="#333" text-anchor="middle" stroke="#333" stroke-width="0.12" transform="translate(688.00,120.50) scale(1,1.2)">30</text>
<text x="0.00" y="0.00" font-family='"Liberation Serif", serif' font-size="4.5" font-weight="normal" font-style="normal" fill="#333" text-anchor="middle" stroke="#333" stroke-width="0.12" transform="translate(703.60,120.50) scale(1,1.2)">40</text>
<text x="0.00" y="0.00" font-family='"Liberation Serif", serif' font-size="4.5" font-weight="normal" font-style="normal" fill="#333" text-anchor="middle" stroke="#333" stroke-width="0.12" transform="translate(719.50,120.50) scale(1,1.2)">50</text>
<text x="0.00" y="0.00" font-family='"Liberation Serif", serif' font-size="4.5" font-weight="normal" font-style="normal" fill="#333" text-anchor="middle" stroke="#333" stroke-width="0.12" transform="translate(735.00,120.50) scale(1,1.2)">60</text>
<text x="0.00" y="0.00" font-family='"Liberation Serif", serif' font-size="4.5" font-weight="bold" font-style="normal" fill="#222" text-anchor="middle" stroke="#222" stroke-width="0.1" transform="translate(709.20,125.30) scale(1,1.15)">Druggable Control hub</text>
<text transform="translate(661.00,98.30) rotate(-90)" font-family='"Liberation Serif", serif' font-size="5" font-weight="bold" fill="#333" text-anchor="middle">Density</text>
<text x="0.00" y="0.00" font-family='"Liberation Serif", serif' font-size="4.3" font-weight="normal" font-style="normal" fill="#444" text-anchor="end" stroke="#444" stroke-width="0.1" transform="translate(670.70,116.60) scale(1,1.2)">0.00</text>
<text x="0.00" y="0.00" font-family='"Liberation Serif", serif' font-size="4.3" font-weight="normal" font-style="normal" fill="#444" text-anchor="end" stroke="#444" stroke-width="0.1" transform="translate(670.70,111.90) scale(1,1.2)">0.01</text>
<text x="0.00" y="0.00" font-family='"Liberation Serif", serif' font-size="4.3" font-weight="normal" font-style="normal" fill="#444" text-anchor="end" stroke="#444" stroke-width="0.1" transform="translate(670.70,107.20) scale(1,1.2)">0.02</text>
<text x="0.00" y="0.00" font-family='"Liberation Serif", serif' font-size="4.3" font-weight="normal" font-style="normal" fill="#444" text-anchor="end" stroke="#444" stroke-width="0.1" transform="translate(670.70,102.50) scale(1,1.2)">0.03</text>
<text x="0.00" y="0.00" font-family='"Liberation Serif", serif' font-size="4.3" font-weight="normal" font-style="normal" fill="#444" text-anchor="end" stroke="#444" stroke-width="0.1" transform="translate(670.70,97.80) scale(1,1.2)">0.04</text>
<text x="0.00" y="0.00" font-family='"Liberation Serif", serif' font-size="4.3" font-weight="normal" font-style="normal" fill="#444" text-anchor="end" stroke="#444" stroke-width="0.1" transform="translate(670.70,93.10) scale(1,1.2)">0.05</text>
<text x="0.00" y="0.00" font-family='"Liberation Serif", serif' font-size="4.3" font-weight="normal" font-style="normal" fill="#444" text-anchor="end" stroke="#444" stroke-width="0.1" transform="translate(670.70,88.40) scale(1,1.2)">0.06</text>
<text x="0.00" y="0.00" font-family='"Liberation Serif", serif' font-size="4.3" font-weight="normal" font-style="normal" fill="#444" text-anchor="end" stroke="#444" stroke-width="0.1" transform="translate(670.70,83.70) scale(1,1.2)">0.07</text>
<rect x="671.90" y="132.50" width="74.10" height="33.90" fill="#fff" stroke="#C9C9C9" stroke-width="0.8" />
<rect x="676.10" y="166.00" width="8.60" height="0.40" fill="#7C7C7C" stroke="#4E4E4E" stroke-width="0.5" />
<rect x="684.70" y="164.20" width="8.60" height="2.20" fill="#7C7C7C" stroke="#4E4E4E" stroke-width="0.5" />
<rect x="693.30" y="158.40" width="8.60" height="8.00" fill="#7C7C7C" stroke="#4E4E4E" stroke-width="0.5" />
<rect x="701.90" y="143.10" width="8.60" height="23.30" fill="#7C7C7C" stroke="#4E4E4E" stroke-width="0.5" />
<rect x="710.50" y="134.00" width="8.60" height="32.40" fill="#7C7C7C" stroke="#4E4E4E" stroke-width="0.5" />
<rect x="719.10" y="152.90" width="8.60" height="13.50" fill="#7C7C7C" stroke="#4E4E4E" stroke-width="0.5" />
<rect x="727.70" y="158.40" width="8.60" height="8.00" fill="#7C7C7C" stroke="#4E4E4E" stroke-width="0.5" />
<rect x="736.30" y="166.00" width="8.60" height="0.40" fill="#7C7C7C" stroke="#4E4E4E" stroke-width="0.5" />
<line x1="708.80" y1="132.50" x2="708.80" y2="166.40" stroke="#F4A620" stroke-width="1.7" />
<text x="673.00" y="138.90" font-family='"Liberation Sans", sans-serif' font-size="9.1" font-weight="bold" font-style="normal" fill="#111" text-anchor="start" stroke="#111" stroke-width="0.25" >Z:-0.36</text>
<text x="673.00" y="148.30" font-family='"Liberation Sans", sans-serif' font-size="9.1" font-weight="bold" font-style="normal" fill="#111" text-anchor="start" stroke="#111" stroke-width="0.25" >P:0.72</text>
<text x="654.00" y="129.50" font-family='"Liberation Sans", sans-serif' font-size="10" font-weight="bold" font-style="italic" fill="#111" text-anchor="start" stroke="#111" stroke-width="0.25" >k=3</text>
<text x="0.00" y="0.00" font-family='"Liberation Serif", serif' font-size="4.5" font-weight="normal" font-style="normal" fill="#333" text-anchor="middle" stroke="#333" stroke-width="0.12" transform="translate(684.00,172.00) scale(1,1.2)">125</text>
<text x="0.00" y="0.00" font-family='"Liberation Serif", serif' font-size="4.5" font-weight="normal" font-style="normal" fill="#333" text-anchor="middle" stroke="#333" stroke-width="0.12" transform="translate(694.80,172.00) scale(1,1.2)">130</text>
<text x="0.00" y="0.00" font-family='"Liberation Serif", serif' font-size="4.5" font-weight="normal" font-style="normal" fill="#333" text-anchor="middle" stroke="#333" stroke-width="0.12" transform="translate(705.60,172.00) scale(1,1.2)">135</text>
<text x="0.00" y="0.00" font-family='"Liberation Serif", serif' font-size="4.5" font-weight="normal" font-style="normal" fill="#333" text-anchor="middle" stroke="#333" stroke-width="0.12" transform="translate(717.00,172.00) scale(1,1.2)">140</text>
<text x="0.00" y="0.00" font-family='"Liberation Serif", serif' font-size="4.5" font-weight="normal" font-style="normal" fill="#333" text-anchor="middle" stroke="#333" stroke-width="0.12" transform="translate(728.30,172.00) scale(1,1.2)">145</text>
<text x="0.00" y="0.00" font-family='"Liberation Serif", serif' font-size="4.5" font-weight="normal" font-style="normal" fill="#333" text-anchor="middle" stroke="#333" stroke-width="0.12" transform="translate(739.50,172.00) scale(1,1.2)">150</text>
<text x="0.00" y="0.00" font-family='"Liberation Serif", serif' font-size="4.5" font-weight="bold" font-style="normal" fill="#222" text-anchor="middle" stroke="#222" stroke-width="0.1" transform="translate(709.20,177.40) scale(1,1.15)">Druggable Control hub</text>
<text transform="translate(661.30,149.45) rotate(-90)" font-family='"Liberation Serif", serif' font-size="5" font-weight="bold" fill="#333" text-anchor="middle">Density</text>
<text x="0.00" y="0.00" font-family='"Liberation Serif", serif' font-size="4.3" font-weight="normal" font-style="normal" fill="#444" text-anchor="end" stroke="#444" stroke-width="0.1" transform="translate(671.00,168.10) scale(1,1.2)">0.00</text>
<text x="0.00" y="0.00" font-family='"Liberation Serif", serif' font-size="4.3" font-weight="normal" font-style="normal" fill="#444" text-anchor="end" stroke="#444" stroke-width="0.1" transform="translate(671.00,161.30) scale(1,1.2)">0.02</text>
<text x="0.00" y="0.00" font-family='"Liberation Serif", serif' font-size="4.3" font-weight="normal" font-style="normal" fill="#444" text-anchor="end" stroke="#444" stroke-width="0.1" transform="translate(671.00,154.50) scale(1,1.2)">0.04</text>
<text x="0.00" y="0.00" font-family='"Liberation Serif", serif' font-size="4.3" font-weight="normal" font-style="normal" fill="#444" text-anchor="end" stroke="#444" stroke-width="0.1" transform="translate(671.00,147.70) scale(1,1.2)">0.06</text>
<text x="0.00" y="0.00" font-family='"Liberation Serif", serif' font-size="4.3" font-weight="normal" font-style="normal" fill="#444" text-anchor="end" stroke="#444" stroke-width="0.1" transform="translate(671.00,140.90) scale(1,1.2)">0.08</text>
<text x="0.00" y="0.00" font-family='"Liberation Serif", serif' font-size="4.3" font-weight="normal" font-style="normal" fill="#444" text-anchor="end" stroke="#444" stroke-width="0.1" transform="translate(671.00,134.10) scale(1,1.2)">0.10</text>
<text x="6.20" y="236.00" font-family='"Liberation Sans", sans-serif' font-size="17" font-weight="bold" font-style="normal" fill="#111" text-anchor="start" stroke="#111" stroke-width="0.25" >D</text>
<path d="M93.00,400.30 L93.00,400.30 L93.50,400.30 L94.00,400.30 L94.50,400.30 L95.00,400.30 L95.50,400.30 L96.00,400.30 L96.50,400.30 L97.00,400.30 L97.50,400.30 L98.00,400.30 L98.50,400.30 L99.00,400.30 L99.50,400.30 L100.00,400.30 L100.50,400.30 L101.00,400.30 L101.50,400.30 L102.00,400.30 L102.50,400.30 L103.00,400.30 L103.50,400.30 L104.00,400.29 L104.50,400.29 L105.00,400.29 L105.50,400.29 L106.00,400.29 L106.50,400.29 L107.00,400.29 L107.50,400.29 L108.00,400.29 L108.50,400.29 L109.00,400.29 L109.50,400.29 L110.00,400.29 L110.50,400.29 L111.00,400.28 L111.50,400.28 L112.00,400.28 L112.50,400.28 L113.00,400.28 L113.50,400.28 L114.00,400.28 L114.50,400.28 L115.00,400.28 L115.50,400.28 L116.00,400.27 L116.50,400.27 L117.00,400.27 L117.50,400.27 L118.00,400.27 L118.50,400.27 L119.00,400.27 L119.50,400.26 L120.00,400.26 L120.50,400.26 L121.00,400.26 L121.50,400.26 L122.00,400.26 L122.50,400.26 L123.00,400.25 L123.50,400.25 L124.00,400.25 L124.50,400.25 L125.00,400.25 L125.50,400.24 L126.00,400.24 L126.50,400.24 L127.00,400.24 L127.50,400.24 L128.00,400.23 L128.50,400.23 L129.00,400.23 L129.50,400.23 L130.00,400.23 L130.50,400.22 L131.00,400.22 L131.50,400.22 L132.00,400.22 L132.50,400.21 L133.00,400.21 L133.50,400.21 L134.00,400.21 L134.50,400.20 L135.00,400.20 L135.50,400.20 L136.00,400.20 L136.50,400.19 L137.00,400.19 L137.50,400.19 L138.00,400.18 L138.50,400.18 L139.00,400.18 L139.50,400.18 L140.00,400.17 L140.50,400.17 L141.00,400.17 L141.50,400.16 L142.00,400.16 L142.50,400.16 L143.00,400.15 L143.50,400.15 L144.00,400.15 L144.50,400.14 L145.00,400.14 L145.50,400.13 L146.00,400.13 L146.50,400.13 L147.00,400.12 L147.50,400.12 L148.00,400.12 L148.50,400.11 L149.00,400.11 L149.50,400.10 L150.00,400.10 L150.50,400.09 L151.00,400.09 L151.50,400.07 L152.00,400.06 L152.50,400.04 L153.00,400.02 L153.50,400.00 L154.00,399.98 L154.50,399.95 L155.00,399.93 L155.50,399.90 L156.00,399.87 L156.50,399.84 L157.00,399.81 L157.50,399.77 L158.00,399.74 L158.50,399.71 L159.00,399.67 L159.50,399.64 L160.00,399.60 L160.50,399.56 L161.00,399.52 L161.50,399.48 L162.00,399.43 L162.50,399.38 L163.00,399.32 L163.50,399.26 L164.00,399.20 L164.50,399.14 L165.00,399.07 L165.50,399.01 L166.00,398.94 L166.50,398.86 L167.00,398.79 L167.50,398.72 L168.00,398.64 L168.50,398.57 L169.00,398.49 L169.50,398.41 L170.00,398.34 L170.50,398.26 L171.00,398.18 L171.50,398.11 L172.00,398.03 L172.50,397.96 L173.00,397.88 L173.50,397.81 L174.00,397.74 L174.50,397.67 L175.00,397.60 L175.50,397.53 L176.00,397.46 L176.50,397.39 L177.00,397.32 L177.50,397.24 L178.00,397.16 L178.50,397.09 L179.00,397.01 L179.50,396.93 L180.00,396.85 L180.50,396.77 L181.00,396.69 L181.50,396.62 L182.00,396.54 L182.50,396.46 L183.00,396.39 L183.50,396.31 L184.00,396.24 L184.50,396.17 L185.00,396.10 L185.50,396.04 L186.00,395.97 L186.50,395.91 L187.00,395.86 L187.50,395.80 L188.00,395.76 L188.50,395.71 L189.00,395.67 L189.50,395.63 L190.00,395.60 L190.50,395.57 L191.00,395.54 L191.50,395.51 L192.00,395.48 L192.50,395.45 L193.00,395.43 L193.50,395.40 L194.00,395.37 L194.50,395.35 L195.00,395.33 L195.50,395.30 L196.00,395.28 L196.50,395.27 L197.00,395.25 L197.50,395.23 L198.00,395.22 L198.50,395.21 L199.00,395.21 L199.50,395.20 L200.00,395.20 L200.50,395.20 L201.00,395.20 L201.50,395.21 L202.00,395.21 L202.50,395.22 L203.00,395.23 L203.50,395.24 L204.00,395.25 L204.50,395.26 L205.00,395.27 L205.50,395.28 L206.00,395.29 L206.50,395.30 L207.00,395.31 L207.50,395.32 L208.00,395.33 L208.50,395.34 L209.00,395.35 L209.50,395.36 L210.00,395.37 L210.50,395.38 L211.00,395.39 L211.50,395.39 L212.00,395.40 L212.50,395.40 L213.00,395.40 L213.50,395.39 L214.00,395.37 L214.50,395.33 L215.00,395.27 L215.50,395.21 L216.00,395.13 L216.50,395.04 L217.00,394.94 L217.50,394.83 L218.00,394.71 L218.50,394.59 L219.00,394.46 L219.50,394.32 L220.00,394.18 L220.50,394.04 L221.00,393.89 L221.50,393.75 L222.00,393.60 L222.50,393.44 L223.00,393.25 L223.50,393.05 L224.00,392.82 L224.50,392.57 L225.00,392.31 L225.50,392.04 L226.00,391.75 L226.50,391.45 L227.00,391.15 L227.50,390.84 L228.00,390.53 L228.50,390.22 L229.00,389.91 L229.50,389.60 L230.00,389.30 L230.50,389.00 L231.00,388.68 L231.50,388.36 L232.00,388.03 L232.50,387.70 L233.00,387.36 L233.50,387.01 L234.00,386.67 L234.50,386.32 L235.00,385.98 L235.50,385.63 L236.00,385.29 L236.50,384.96 L237.00,384.63 L237.50,384.31 L238.00,384.00 L238.50,383.70 L239.00,383.40 L239.50,383.10 L240.00,382.82 L240.50,382.53 L241.00,382.25 L241.50,381.96 L242.00,381.68 L242.50,381.40 L243.00,381.13 L243.50,380.85 L244.00,380.57 L244.50,380.28 L245.00,380.00 L245.50,379.71 L246.00,379.43 L246.50,379.14 L247.00,378.86 L247.50,378.57 L248.00,378.29 L248.50,378.00 L249.00,377.71 L249.50,377.43 L250.00,377.14 L250.50,376.86 L251.00,376.57 L251.50,376.29 L252.00,376.00 L252.50,375.71 L253.00,375.42 L253.50,375.13 L254.00,374.84 L254.50,374.54 L255.00,374.25 L255.50,373.96 L256.00,373.67 L256.50,373.38 L257.00,373.09 L257.50,372.81 L258.00,372.54 L258.50,372.26 L259.00,372.00 L259.50,371.74 L260.00,371.48 L260.50,371.23 L261.00,370.97 L261.50,370.72 L262.00,370.48 L262.50,370.23 L263.00,369.99 L263.50,369.75 L264.00,369.52 L264.50,369.29 L265.00,369.06 L265.50,368.84 L266.00,368.62 L266.50,368.40 L267.00,368.19 L267.50,367.97 L268.00,367.76 L268.50,367.55 L269.00,367.34 L269.50,367.13 L270.00,366.93 L270.50,366.73 L271.00,366.53 L271.50,366.34 L272.00,366.16 L272.50,365.98 L273.00,365.81 L273.50,365.65 L274.00,365.50 L274.50,365.36 L275.00,365.22 L275.50,365.09 L276.00,364.97 L276.50,364.85 L277.00,364.74 L277.50,364.62 L278.00,364.51 L278.50,364.40 L279.00,364.29 L279.50,364.17 L280.00,364.06 L280.50,363.93 L281.00,363.80 L281.50,363.67 L282.00,363.53 L282.50,363.40 L283.00,363.26 L283.50,363.12 L284.00,362.99 L284.50,362.84 L285.00,362.70 L285.50,362.55 L286.00,362.39 L286.50,362.23 L287.00,362.07 L287.50,361.89 L288.00,361.71 L288.50,361.52 L289.00,361.33 L289.50,361.13 L290.00,360.92 L290.50,360.70 L291.00,360.47 L291.50,360.24 L292.00,359.99 L292.50,359.74 L293.00,359.47 L293.50,359.20 L294.00,358.91 L294.50,358.61 L295.00,358.29 L295.50,357.97 L296.00,357.62 L296.50,357.24 L297.00,356.82 L297.50,356.38 L298.00,355.91 L298.50,355.41 L299.00,354.90 L299.50,354.37 L300.00,353.83 L300.50,353.28 L301.00,352.72 L301.50,352.16 L302.00,351.60 L302.50,351.04 L303.00,350.49 L303.50,349.93 L304.00,349.37 L304.50,348.79 L305.00,348.21 L305.50,347.62 L306.00,347.02 L306.50,346.41 L307.00,345.79 L307.50,345.15 L308.00,344.51 L308.50,343.86 L309.00,343.20 L309.50,342.53 L310.00,341.82 L310.50,341.07 L311.00,340.30 L311.50,339.50 L312.00,338.70 L312.50,337.88 L313.00,337.07 L313.50,336.27 L314.00,335.48 L314.50,334.72 L315.00,333.99 L315.50,333.29 L316.00,332.64 L316.50,332.04 L317.00,331.45 L317.50,330.86 L318.00,330.29 L318.50,329.72 L319.00,329.18 L319.50,328.64 L320.00,328.13 L320.50,327.64 L321.00,327.17 L321.50,326.73 L322.00,326.31 L322.50,325.92 L323.00,325.57 L323.50,325.24 L324.00,324.91 L324.50,324.60 L325.00,324.30 L325.50,324.01 L326.00,323.73 L326.50,323.47 L327.00,323.22 L327.50,322.98 L328.00,322.76 L328.50,322.55 L329.00,322.36 L329.50,322.19 L330.00,322.03 L330.50,321.89 L331.00,321.75 L331.50,321.62 L332.00,321.49 L332.50,321.38 L333.00,321.26 L333.50,321.16 L334.00,321.06 L334.50,320.96 L335.00,320.88 L335.50,320.80 L336.00,320.72 L336.50,320.66 L337.00,320.60 L337.50,320.55 L338.00,320.50 L338.50,320.46 L339.00,320.42 L339.50,320.39 L340.00,320.36 L340.50,320.33 L341.00,320.30 L341.50,320.27 L342.00,320.24 L342.50,320.21 L343.00,320.17 L343.50,320.14 L344.00,320.10 L344.50,320.05 L345.00,320.00 L345.50,319.94 L346.00,319.88 L346.50,319.80 L347.00,319.73 L347.50,319.64 L348.00,319.55 L348.50,319.46 L349.00,319.36 L349.50,319.26 L350.00,319.15 L350.50,319.04 L351.00,318.93 L351.50,318.82 L352.00,318.70 L352.50,318.59 L353.00,318.48 L353.50,318.36 L354.00,318.24 L354.50,318.12 L355.00,317.99 L355.50,317.86 L356.00,317.73 L356.50,317.59 L357.00,317.45 L357.50,317.31 L358.00,317.17 L358.50,317.02 L359.00,316.87 L359.50,316.72 L360.00,316.57 L360.50,316.41 L361.00,316.25 L361.50,316.09 L362.00,315.93 L362.50,315.77 L363.00,315.60 L363.50,315.44 L364.00,315.27 L364.50,315.10 L365.00,314.93 L365.50,314.76 L366.00,314.59 L366.50,314.41 L367.00,314.23 L367.50,314.04 L368.00,313.85 L368.50,313.66 L369.00,313.47 L369.50,313.27 L370.00,313.07 L370.50,312.87 L371.00,312.66 L371.50,312.46 L372.00,312.25 L372.50,312.04 L373.00,311.83 L373.50,311.62 L374.00,311.41 L374.50,311.20 L375.00,310.98 L375.50,310.77 L376.00,310.56 L376.50,310.34 L377.00,310.13 L377.50,309.91 L378.00,309.70 L378.50,309.49 L379.00,309.27 L379.50,309.06 L380.00,308.84 L380.50,308.62 L381.00,308.40 L381.50,308.18 L382.00,307.96 L382.50,307.74 L383.00,307.51 L383.50,307.29 L384.00,307.06 L384.50,306.83 L385.00,306.60 L385.50,306.37 L386.00,306.14 L386.50,305.90 L387.00,305.67 L387.50,305.43 L388.00,305.19 L388.50,304.94 L389.00,304.70 L389.50,304.45 L390.00,304.20 L390.50,303.94 L391.00,303.67 L391.50,303.40 L392.00,303.12 L392.50,302.84 L393.00,302.55 L393.50,302.26 L394.00,301.97 L394.50,301.68 L395.00,301.39 L395.50,301.10 L396.00,300.81 L396.50,300.52 L397.00,300.23 L397.50,299.94 L398.00,299.66 L398.50,299.38 L399.00,299.11 L399.50,298.84 L400.00,298.58 L400.50,298.33 L401.00,298.08 L401.50,297.85 L402.00,297.61 L402.50,297.36 L403.00,297.09 L403.50,296.82 L404.00,296.55 L404.50,296.28 L405.00,296.01 L405.50,295.76 L406.00,295.52 L406.50,295.31 L407.00,295.12 L407.50,294.96 L408.00,294.83 L408.50,294.75 L409.00,294.70 L409.50,294.70 L410.00,294.71 L410.50,294.71 L411.00,294.73 L411.50,294.74 L412.00,294.76 L412.50,294.79 L413.00,294.81 L413.50,294.85 L414.00,294.88 L414.50,294.92 L415.00,294.96 L415.50,295.00 L416.00,295.05 L416.50,295.10 L417.00,295.18 L417.50,295.30 L418.00,295.46 L418.50,295.66 L419.00,295.88 L419.50,296.12 L420.00,296.38 L420.50,296.64 L421.00,296.91 L421.50,297.21 L422.00,297.55 L422.50,297.92 L423.00,298.32 L423.50,298.75 L424.00,299.19 L424.50,299.65 L425.00,300.11 L425.50,300.58 L426.00,301.05 L426.50,301.52 L427.00,301.98 L427.50,302.44 L428.00,302.92 L428.50,303.41 L429.00,303.91 L429.50,304.42 L430.00,304.94 L430.50,305.46 L431.00,306.00 L431.50,306.55 L432.00,307.13 L432.50,307.72 L433.00,308.33 L433.50,308.94 L434.00,309.55 L434.50,310.15 L435.00,310.74 L435.50,311.31 L436.00,311.89 L436.50,312.48 L437.00,313.07 L437.50,313.65 L438.00,314.22 L438.50,314.77 L439.00,315.29 L439.50,315.77 L440.00,316.20 L440.50,316.60 L441.00,316.99 L441.50,317.36 L442.00,317.73 L442.50,318.08 L443.00,318.42 L443.50,318.74 L444.00,319.06 L444.50,319.37 L445.00,319.67 L445.50,319.97 L446.00,320.25 L446.50,320.53 L447.00,320.80 L447.50,321.07 L448.00,321.33 L448.50,321.59 L449.00,321.85 L449.50,322.10 L450.00,322.34 L450.50,322.57 L451.00,322.79 L451.50,323.01 L452.00,323.22 L452.50,323.42 L453.00,323.62 L453.50,323.81 L454.00,324.01 L454.50,324.20 L455.00,324.39 L455.50,324.59 L456.00,324.79 L456.50,325.00 L457.00,325.21 L457.50,325.43 L458.00,325.66 L458.50,325.90 L459.00,326.15 L459.50,326.40 L460.00,326.66 L460.50,326.93 L461.00,327.20 L461.50,327.47 L462.00,327.75 L462.50,328.04 L463.00,328.32 L463.50,328.62 L464.00,328.92 L464.50,329.22 L465.00,329.52 L465.50,329.83 L466.00,330.15 L466.50,330.46 L467.00,330.78 L467.50,331.11 L468.00,331.43 L468.50,331.76 L469.00,332.10 L469.50,332.44 L470.00,332.79 L470.50,333.14 L471.00,333.50 L471.50,333.87 L472.00,334.24 L472.50,334.61 L473.00,334.99 L473.50,335.37 L474.00,335.75 L474.50,336.14 L475.00,336.53 L475.50,336.92 L476.00,337.32 L476.50,337.72 L477.00,338.12 L477.50,338.53 L478.00,338.95 L478.50,339.39 L479.00,339.85 L479.50,340.31 L480.00,340.78 L480.50,341.25 L481.00,341.73 L481.50,342.21 L482.00,342.68 L482.50,343.15 L483.00,343.61 L483.50,344.07 L484.00,344.51 L484.50,344.93 L485.00,345.34 L485.50,345.73 L486.00,346.09 L486.50,346.43 L487.00,346.76 L487.50,347.08 L488.00,347.39 L488.50,347.69 L489.00,347.98 L489.50,348.27 L490.00,348.55 L490.50,348.82 L491.00,349.09 L491.50,349.35 L492.00,349.61 L492.50,349.86 L493.00,350.11 L493.50,350.36 L494.00,350.61 L494.50,350.86 L495.00,351.10 L495.50,351.35 L496.00,351.60 L496.50,351.83 L497.00,352.06 L497.50,352.29 L498.00,352.51 L498.50,352.72 L499.00,352.94 L499.50,353.15 L500.00,353.36 L500.50,353.57 L501.00,353.78 L501.50,354.00 L502.00,354.21 L502.50,354.44 L503.00,354.67 L503.50,354.90 L504.00,355.14 L504.50,355.39 L505.00,355.65 L505.50,355.92 L506.00,356.21 L506.50,356.50 L507.00,356.80 L507.50,357.10 L508.00,357.41 L508.50,357.73 L509.00,358.06 L509.50,358.38 L510.00,358.71 L510.50,359.05 L511.00,359.38 L511.50,359.71 L512.00,360.04 L512.50,360.37 L513.00,360.70 L513.50,361.02 L514.00,361.34 L514.50,361.65 L515.00,361.97 L515.50,362.28 L516.00,362.60 L516.50,362.92 L517.00,363.24 L517.50,363.56 L518.00,363.87 L518.50,364.19 L519.00,364.51 L519.50,364.82 L520.00,365.14 L520.50,365.45 L521.00,365.76 L521.50,366.06 L522.00,366.37 L522.50,366.67 L523.00,366.97 L523.50,367.26 L524.00,367.55 L524.50,367.83 L525.00,368.11 L525.50,368.39 L526.00,368.67 L526.50,368.94 L527.00,369.21 L527.50,369.48 L528.00,369.75 L528.50,370.02 L529.00,370.28 L529.50,370.55 L530.00,370.82 L530.50,371.09 L531.00,371.36 L531.50,371.63 L532.00,371.91 L532.50,372.19 L533.00,372.47 L533.50,372.76 L534.00,373.05 L534.50,373.35 L535.00,373.66 L535.50,373.97 L536.00,374.27 L536.50,374.58 L537.00,374.89 L537.50,375.19 L538.00,375.50 L538.50,375.79 L539.00,376.08 L539.50,376.37 L540.00,376.65 L540.50,376.91 L541.00,377.17 L541.50,377.41 L542.00,377.65 L542.50,377.87 L543.00,378.10 L543.50,378.32 L544.00,378.55 L544.50,378.77 L545.00,378.98 L545.50,379.19 L546.00,379.40 L546.50,379.60 L547.00,379.80 L547.50,379.98 L548.00,380.16 L548.50,380.34 L549.00,380.50 L549.50,380.65 L550.00,380.80 L550.50,380.93 L551.00,381.05 L551.50,381.17 L552.00,381.27 L552.50,381.37 L553.00,381.46 L553.50,381.55 L554.00,381.63 L554.50,381.71 L555.00,381.78 L555.50,381.86 L556.00,381.93 L556.50,382.00 L557.00,382.07 L557.50,382.13 L558.00,382.20 L558.50,382.27 L559.00,382.35 L559.50,382.42 L560.00,382.50 L560.50,382.58 L561.00,382.66 L561.50,382.73 L562.00,382.80 L562.50,382.88 L563.00,382.95 L563.50,383.02 L564.00,383.09 L564.50,383.16 L565.00,383.24 L565.50,383.31 L566.00,383.38 L566.50,383.46 L567.00,383.54 L567.50,383.61 L568.00,383.69 L568.50,383.78 L569.00,383.86 L569.50,383.95 L570.00,384.04 L570.50,384.14 L571.00,384.24 L571.50,384.34 L572.00,384.45 L572.50,384.57 L573.00,384.69 L573.50,384.82 L574.00,384.95 L574.50,385.08 L575.00,385.23 L575.50,385.37 L576.00,385.52 L576.50,385.67 L577.00,385.83 L577.50,385.99 L578.00,386.15 L578.50,386.31 L579.00,386.48 L579.50,386.65 L580.00,386.81 L580.50,386.98 L581.00,387.15 L581.50,387.32 L582.00,387.50 L582.50,387.67 L583.00,387.83 L583.50,388.00 L584.00,388.17 L584.50,388.34 L585.00,388.50 L585.50,388.67 L586.00,388.84 L586.50,389.01 L587.00,389.19 L587.50,389.37 L588.00,389.56 L588.50,389.75 L589.00,389.94 L589.50,390.13 L590.00,390.32 L590.50,390.51 L591.00,390.70 L591.50,390.89 L592.00,391.08 L592.50,391.27 L593.00,391.45 L593.50,391.63 L594.00,391.80 L594.50,391.98 L595.00,392.14 L595.50,392.30 L596.00,392.46 L596.50,392.60 L597.00,392.74 L597.50,392.88 L598.00,393.00 L598.50,393.12 L599.00,393.24 L599.50,393.36 L600.00,393.48 L600.50,393.60 L601.00,393.71 L601.50,393.83 L602.00,393.95 L602.50,394.07 L603.00,394.18 L603.50,394.29 L604.00,394.41 L604.50,394.52 L605.00,394.63 L605.50,394.73 L606.00,394.84 L606.50,394.94 L607.00,395.04 L607.50,395.14 L608.00,395.23 L608.50,395.33 L609.00,395.41 L609.50,395.50 L610.00,395.58 L610.50,395.66 L611.00,395.74 L611.50,395.81 L612.00,395.88 L612.50,395.94 L613.00,396.00 L613.50,396.06 L614.00,396.11 L614.50,396.16 L615.00,396.20 L615.50,396.23 L616.00,396.27 L616.50,396.29 L617.00,396.31 L617.50,396.33 L618.00,396.35 L618.50,396.37 L619.00,396.38 L619.50,396.40 L620.00,396.42 L620.50,396.43 L621.00,396.44 L621.50,396.45 L622.00,396.47 L622.50,396.48 L623.00,396.49 L623.50,396.50 L624.00,396.51 L624.50,396.52 L625.00,396.52 L625.50,396.53 L626.00,396.54 L626.50,396.55 L627.00,396.56 L627.50,396.56 L628.00,396.57 L628.50,396.58 L629.00,396.59 L629.50,396.59 L630.00,396.60 L630.50,396.61 L631.00,396.62 L631.50,396.63 L632.00,396.64 L632.50,396.65 L633.00,396.66 L633.50,396.67 L634.00,396.68 L634.50,396.69 L635.00,396.70 L635.50,396.72 L636.00,396.73 L636.50,396.75 L637.00,396.76 L637.50,396.78 L638.00,396.80 L638.50,396.82 L639.00,396.85 L639.50,396.88 L640.00,396.91 L640.50,396.94 L641.00,396.98 L641.50,397.03 L642.00,397.07 L642.50,397.12 L643.00,397.17 L643.50,397.22 L644.00,397.28 L644.50,397.34 L645.00,397.40 L645.50,397.46 L646.00,397.52 L646.50,397.59 L647.00,397.65 L647.50,397.72 L648.00,397.79 L648.50,397.86 L649.00,397.92 L649.50,397.99 L650.00,398.06 L650.50,398.13 L651.00,398.21 L651.50,398.28 L652.00,398.34 L652.50,398.41 L653.00,398.48 L653.50,398.55 L654.00,398.62 L654.50,398.68 L655.00,398.75 L655.50,398.81 L656.00,398.87 L656.50,398.93 L657.00,398.98 L657.50,399.04 L658.00,399.09 L658.50,399.14 L659.00,399.19 L659.50,399.23 L660.00,399.27 L660.50,399.31 L661.00,399.34 L661.50,399.37 L662.00,399.40 L662.50,399.42 L663.00,399.45 L663.50,399.47 L664.00,399.50 L664.50,399.52 L665.00,399.54 L665.50,399.56 L666.00,399.59 L666.50,399.61 L667.00,399.63 L667.50,399.65 L668.00,399.67 L668.50,399.69 L669.00,399.71 L669.50,399.73 L670.00,399.75 L670.50,399.76 L671.00,399.78 L671.50,399.80 L672.00,399.82 L672.50,399.83 L673.00,399.85 L673.50,399.86 L674.00,399.88 L674.50,399.89 L675.00,399.91 L675.50,399.92 L676.00,399.94 L676.50,399.95 L677.00,399.96 L677.50,399.98 L678.00,399.99 L678.50,400.00 L679.00,400.01 L679.50,400.02 L680.00,400.04 L680.50,400.05 L681.00,400.06 L681.50,400.07 L682.00,400.08 L682.50,400.09 L683.00,400.09 L683.50,400.10 L684.00,400.11 L684.50,400.12 L685.00,400.13 L685.50,400.14 L686.00,400.15 L686.50,400.15 L687.00,400.16 L687.50,400.17 L688.00,400.18 L688.50,400.19 L689.00,400.19 L689.50,400.20 L690.00,400.21 L690.50,400.21 L691.00,400.22 L691.50,400.23 L692.00,400.23 L692.50,400.24 L693.00,400.25 L693.50,400.25 L694.00,400.26 L694.50,400.26 L695.00,400.27 L695.50,400.27 L696.00,400.28 L696.50,400.28 L697.00,400.28 L697.50,400.29 L698.00,400.29 L698.50,400.29 L699.00,400.30 L699.50,400.30 L700.00,400.30 L700.00,400.30 Z" fill="#BBC7F8"/>
<path d="M165.00,400.30 L165.00,400.30 L165.50,400.30 L166.00,400.30 L166.50,400.29 L167.00,400.29 L167.50,400.28 L168.00,400.27 L168.50,400.27 L169.00,400.26 L169.50,400.25 L170.00,400.23 L170.50,400.22 L171.00,400.21 L171.50,400.20 L172.00,400.18 L172.50,400.17 L173.00,400.15 L173.50,400.13 L174.00,400.11 L174.50,400.10 L175.00,400.08 L175.50,400.06 L176.00,400.04 L176.50,400.01 L177.00,399.99 L177.50,399.97 L178.00,399.95 L178.50,399.93 L179.00,399.90 L179.50,399.88 L180.00,399.85 L180.50,399.83 L181.00,399.80 L181.50,399.78 L182.00,399.75 L182.50,399.73 L183.00,399.70 L183.50,399.68 L184.00,399.65 L184.50,399.63 L185.00,399.60 L185.50,399.57 L186.00,399.54 L186.50,399.51 L187.00,399.48 L187.50,399.44 L188.00,399.40 L188.50,399.36 L189.00,399.32 L189.50,399.28 L190.00,399.23 L190.50,399.19 L191.00,399.14 L191.50,399.09 L192.00,399.04 L192.50,398.99 L193.00,398.94 L193.50,398.89 L194.00,398.83 L194.50,398.78 L195.00,398.73 L195.50,398.67 L196.00,398.62 L196.50,398.57 L197.00,398.51 L197.50,398.46 L198.00,398.41 L198.50,398.35 L199.00,398.30 L199.50,398.25 L200.00,398.20 L200.50,398.15 L201.00,398.10 L201.50,398.05 L202.00,398.00 L202.50,397.95 L203.00,397.90 L203.50,397.85 L204.00,397.80 L204.50,397.75 L205.00,397.70 L205.50,397.64 L206.00,397.59 L206.50,397.54 L207.00,397.49 L207.50,397.43 L208.00,397.38 L208.50,397.33 L209.00,397.27 L209.50,397.22 L210.00,397.17 L210.50,397.11 L211.00,397.06 L211.50,397.00 L212.00,396.95 L212.50,396.89 L213.00,396.83 L213.50,396.77 L214.00,396.72 L214.50,396.66 L215.00,396.60 L215.50,396.54 L216.00,396.48 L216.50,396.42 L217.00,396.36 L217.50,396.30 L218.00,396.24 L218.50,396.17 L219.00,396.11 L219.50,396.05 L220.00,395.98 L220.50,395.92 L221.00,395.85 L221.50,395.78 L222.00,395.72 L222.50,395.65 L223.00,395.58 L223.50,395.51 L224.00,395.44 L224.50,395.37 L225.00,395.30 L225.50,395.23 L226.00,395.16 L226.50,395.10 L227.00,395.03 L227.50,394.97 L228.00,394.91 L228.50,394.84 L229.00,394.78 L229.50,394.72 L230.00,394.66 L230.50,394.59 L231.00,394.52 L231.50,394.46 L232.00,394.39 L232.50,394.31 L233.00,394.23 L233.50,394.15 L234.00,394.07 L234.50,393.98 L235.00,393.89 L235.50,393.79 L236.00,393.68 L236.50,393.57 L237.00,393.46 L237.50,393.33 L238.00,393.20 L238.50,393.05 L239.00,392.85 L239.50,392.63 L240.00,392.38 L240.50,392.10 L241.00,391.79 L241.50,391.47 L242.00,391.14 L242.50,390.79 L243.00,390.43 L243.50,390.07 L244.00,389.71 L244.50,389.35 L245.00,389.00 L245.50,388.64 L246.00,388.26 L246.50,387.86 L247.00,387.45 L247.50,387.03 L248.00,386.59 L248.50,386.16 L249.00,385.71 L249.50,385.28 L250.00,384.84 L250.50,384.41 L251.00,383.99 L251.50,383.59 L252.00,383.20 L252.50,382.83 L253.00,382.47 L253.50,382.12 L254.00,381.79 L254.50,381.45 L255.00,381.13 L255.50,380.80 L256.00,380.47 L256.50,380.13 L257.00,379.79 L257.50,379.44 L258.00,379.08 L258.50,378.70 L259.00,378.30 L259.50,377.88 L260.00,377.43 L260.50,376.96 L261.00,376.48 L261.50,375.98 L262.00,375.47 L262.50,374.95 L263.00,374.43 L263.50,373.92 L264.00,373.41 L264.50,372.90 L265.00,372.42 L265.50,371.95 L266.00,371.50 L266.50,371.08 L267.00,370.68 L267.50,370.29 L268.00,369.93 L268.50,369.57 L269.00,369.22 L269.50,368.87 L270.00,368.52 L270.50,368.17 L271.00,367.80 L271.50,367.42 L272.00,367.03 L272.50,366.61 L273.00,366.17 L273.50,365.70 L274.00,365.20 L274.50,364.65 L275.00,364.03 L275.50,363.37 L276.00,362.66 L276.50,361.92 L277.00,361.16 L277.50,360.37 L278.00,359.58 L278.50,358.79 L279.00,358.00 L279.50,357.20 L280.00,356.37 L280.50,355.52 L281.00,354.65 L281.50,353.77 L282.00,352.89 L282.50,352.02 L283.00,351.16 L283.50,350.31 L284.00,349.50 L284.50,348.71 L285.00,347.92 L285.50,347.14 L286.00,346.37 L286.50,345.61 L287.00,344.86 L287.50,344.12 L288.00,343.38 L288.50,342.65 L289.00,341.93 L289.50,341.21 L290.00,340.50 L290.50,339.80 L291.00,339.12 L291.50,338.46 L292.00,337.80 L292.50,337.15 L293.00,336.50 L293.50,335.85 L294.00,335.20 L294.50,334.54 L295.00,333.88 L295.50,333.20 L296.00,332.50 L296.50,331.79 L297.00,331.06 L297.50,330.32 L298.00,329.58 L298.50,328.83 L299.00,328.07 L299.50,327.30 L300.00,326.54 L300.50,325.77 L301.00,325.01 L301.50,324.25 L302.00,323.50 L302.50,322.75 L303.00,321.98 L303.50,321.22 L304.00,320.44 L304.50,319.67 L305.00,318.89 L305.50,318.12 L306.00,317.34 L306.50,316.57 L307.00,315.80 L307.50,315.04 L308.00,314.28 L308.50,313.54 L309.00,312.80 L309.50,312.08 L310.00,311.37 L310.50,310.68 L311.00,310.00 L311.50,309.35 L312.00,308.72 L312.50,308.11 L313.00,307.51 L313.50,306.92 L314.00,306.32 L314.50,305.71 L315.00,305.09 L315.50,304.44 L316.00,303.80 L316.50,303.16 L317.00,302.52 L317.50,301.87 L318.00,301.19 L318.50,300.49 L319.00,299.74 L319.50,298.94 L320.00,298.07 L320.50,297.10 L321.00,296.04 L321.50,294.92 L322.00,293.75 L322.50,292.57 L323.00,291.38 L323.50,290.22 L324.00,289.10 L324.50,287.88 L325.00,286.54 L325.50,285.24 L326.00,284.19 L326.50,283.56 L327.00,283.33 L327.50,283.16 L328.00,283.02 L328.50,282.91 L329.00,282.82 L329.50,282.74 L330.00,282.66 L330.50,282.58 L331.00,282.49 L331.50,282.38 L332.00,282.24 L332.50,282.11 L333.00,281.98 L333.50,281.84 L334.00,281.70 L334.50,281.54 L335.00,281.37 L335.50,281.17 L336.00,280.95 L336.50,280.69 L337.00,280.40 L337.50,279.93 L338.00,279.20 L338.50,278.28 L339.00,277.24 L339.50,276.15 L340.00,275.08 L340.50,274.11 L341.00,273.29 L341.50,272.53 L342.00,271.82 L342.50,271.13 L343.00,270.46 L343.50,269.80 L344.00,269.14 L344.50,268.49 L345.00,267.82 L345.50,267.13 L346.00,266.41 L346.50,265.66 L347.00,264.86 L347.50,264.01 L348.00,263.12 L348.50,262.21 L349.00,261.29 L349.50,260.37 L350.00,259.46 L350.50,258.57 L351.00,257.73 L351.50,256.90 L352.00,256.02 L352.50,255.13 L353.00,254.26 L353.50,253.47 L354.00,252.81 L354.50,252.33 L355.00,252.04 L355.50,251.78 L356.00,251.54 L356.50,251.34 L357.00,251.18 L357.50,251.06 L358.00,251.01 L358.50,251.04 L359.00,251.28 L359.50,251.68 L360.00,252.19 L360.50,252.75 L361.00,253.31 L361.50,253.82 L362.00,254.22 L362.50,254.46 L363.00,254.49 L363.50,254.36 L364.00,254.13 L364.50,253.82 L365.00,253.48 L365.50,253.14 L366.00,252.85 L366.50,252.61 L367.00,252.37 L367.50,252.12 L368.00,251.88 L368.50,251.67 L369.00,251.51 L369.50,251.42 L370.00,251.42 L370.50,251.64 L371.00,252.05 L371.50,252.58 L372.00,253.18 L372.50,253.92 L373.00,255.01 L373.50,256.28 L374.00,257.57 L374.50,258.71 L375.00,259.78 L375.50,260.83 L376.00,261.85 L376.50,262.83 L377.00,263.76 L377.50,264.69 L378.00,265.61 L378.50,266.50 L379.00,267.34 L379.50,268.10 L380.00,268.77 L380.50,269.33 L381.00,269.82 L381.50,270.27 L382.00,270.68 L382.50,271.06 L383.00,271.44 L383.50,271.82 L384.00,272.20 L384.50,272.54 L385.00,272.87 L385.50,273.21 L386.00,273.58 L386.50,274.00 L387.00,274.53 L387.50,275.17 L388.00,275.89 L388.50,276.65 L389.00,277.42 L389.50,278.16 L390.00,278.84 L390.50,279.43 L391.00,279.88 L391.50,280.30 L392.00,280.71 L392.50,281.10 L393.00,281.44 L393.50,281.72 L394.00,281.91 L394.50,282.00 L395.00,281.96 L395.50,281.83 L396.00,281.63 L396.50,281.38 L397.00,281.10 L397.50,280.83 L398.00,280.58 L398.50,280.37 L399.00,280.14 L399.50,279.89 L400.00,279.64 L400.50,279.42 L401.00,279.24 L401.50,279.13 L402.00,279.10 L402.50,279.17 L403.00,279.32 L403.50,279.52 L404.00,279.72 L404.50,279.91 L405.00,280.05 L405.50,280.10 L406.00,280.07 L406.50,280.00 L407.00,279.88 L407.50,279.73 L408.00,279.56 L408.50,279.37 L409.00,279.18 L409.50,278.96 L410.00,278.62 L410.50,278.20 L411.00,277.73 L411.50,277.25 L412.00,276.81 L412.50,276.44 L413.00,276.19 L413.50,276.10 L414.00,276.13 L414.50,276.20 L415.00,276.32 L415.50,276.48 L416.00,276.67 L416.50,276.90 L417.00,277.42 L417.50,278.38 L418.00,279.64 L418.50,281.04 L419.00,282.41 L419.50,283.63 L420.00,284.79 L420.50,285.98 L421.00,287.17 L421.50,288.32 L422.00,289.40 L422.50,290.38 L423.00,291.28 L423.50,292.13 L424.00,292.93 L424.50,293.71 L425.00,294.48 L425.50,295.27 L426.00,296.08 L426.50,296.94 L427.00,297.86 L427.50,298.82 L428.00,299.82 L428.50,300.84 L429.00,301.88 L429.50,302.93 L430.00,303.97 L430.50,305.01 L431.00,306.04 L431.50,307.07 L432.00,308.10 L432.50,309.15 L433.00,310.23 L433.50,311.34 L434.00,312.50 L434.50,313.74 L435.00,315.09 L435.50,316.51 L436.00,317.99 L436.50,319.49 L437.00,321.00 L437.50,322.50 L438.00,323.95 L438.50,325.34 L439.00,326.64 L439.50,327.84 L440.00,328.90 L440.50,329.85 L441.00,330.73 L441.50,331.55 L442.00,332.32 L442.50,333.07 L443.00,333.79 L443.50,334.50 L444.00,335.19 L444.50,335.86 L445.00,336.50 L445.50,337.12 L446.00,337.74 L446.50,338.37 L447.00,339.00 L447.50,339.65 L448.00,340.30 L448.50,340.96 L449.00,341.62 L449.50,342.26 L450.00,342.89 L450.50,343.50 L451.00,344.09 L451.50,344.66 L452.00,345.21 L452.50,345.76 L453.00,346.31 L453.50,346.85 L454.00,347.41 L454.50,347.98 L455.00,348.55 L455.50,349.12 L456.00,349.67 L456.50,350.21 L457.00,350.74 L457.50,351.25 L458.00,351.75 L458.50,352.25 L459.00,352.75 L459.50,353.25 L460.00,353.76 L460.50,354.28 L461.00,354.81 L461.50,355.36 L462.00,355.92 L462.50,356.48 L463.00,357.05 L463.50,357.62 L464.00,358.20 L464.50,358.78 L465.00,359.36 L465.50,359.94 L466.00,360.51 L466.50,361.07 L467.00,361.63 L467.50,362.18 L468.00,362.71 L468.50,363.23 L469.00,363.74 L469.50,364.23 L470.00,364.72 L470.50,365.21 L471.00,365.69 L471.50,366.17 L472.00,366.66 L472.50,367.16 L473.00,367.66 L473.50,368.18 L474.00,368.72 L474.50,369.27 L475.00,369.85 L475.50,370.47 L476.00,371.11 L476.50,371.78 L477.00,372.47 L477.50,373.17 L478.00,373.87 L478.50,374.58 L479.00,375.29 L479.50,375.99 L480.00,376.67 L480.50,377.33 L481.00,377.97 L481.50,378.57 L482.00,379.14 L482.50,379.73 L483.00,380.32 L483.50,380.91 L484.00,381.50 L484.50,382.08 L485.00,382.64 L485.50,383.18 L486.00,383.70 L486.50,384.18 L487.00,384.62 L487.50,385.01 L488.00,385.36 L488.50,385.65 L489.00,385.90 L489.50,386.14 L490.00,386.38 L490.50,386.62 L491.00,386.84 L491.50,387.05 L492.00,387.25 L492.50,387.43 L493.00,387.58 L493.50,387.72 L494.00,387.83 L494.50,387.92 L495.00,387.98 L495.50,388.00 L496.00,388.00 L496.50,387.98 L497.00,387.96 L497.50,387.93 L498.00,387.89 L498.50,387.85 L499.00,387.80 L499.50,387.76 L500.00,387.72 L500.50,387.68 L501.00,387.65 L501.50,387.62 L502.00,387.61 L502.50,387.60 L503.00,387.63 L503.50,387.70 L504.00,387.82 L504.50,387.98 L505.00,388.17 L505.50,388.38 L506.00,388.62 L506.50,388.86 L507.00,389.12 L507.50,389.38 L508.00,389.63 L508.50,389.87 L509.00,390.10 L509.50,390.30 L510.00,390.49 L510.50,390.69 L511.00,390.90 L511.50,391.11 L512.00,391.32 L512.50,391.53 L513.00,391.74 L513.50,391.95 L514.00,392.16 L514.50,392.36 L515.00,392.56 L515.50,392.75 L516.00,392.94 L516.50,393.12 L517.00,393.29 L517.50,393.44 L518.00,393.59 L518.50,393.73 L519.00,393.85 L519.50,393.96 L520.00,394.06 L520.50,394.16 L521.00,394.26 L521.50,394.35 L522.00,394.43 L522.50,394.52 L523.00,394.60 L523.50,394.67 L524.00,394.75 L524.50,394.83 L525.00,394.90 L525.50,394.98 L526.00,395.06 L526.50,395.14 L527.00,395.22 L527.50,395.31 L528.00,395.40 L528.50,395.49 L529.00,395.59 L529.50,395.69 L530.00,395.79 L530.50,395.89 L531.00,395.99 L531.50,396.10 L532.00,396.20 L532.50,396.31 L533.00,396.41 L533.50,396.52 L534.00,396.62 L534.50,396.73 L535.00,396.83 L535.50,396.93 L536.00,397.04 L536.50,397.14 L537.00,397.24 L537.50,397.34 L538.00,397.44 L538.50,397.54 L539.00,397.65 L539.50,397.75 L540.00,397.85 L540.50,397.96 L541.00,398.06 L541.50,398.16 L542.00,398.26 L542.50,398.36 L543.00,398.46 L543.50,398.56 L544.00,398.65 L544.50,398.75 L545.00,398.83 L545.50,398.92 L546.00,399.00 L546.50,399.08 L547.00,399.16 L547.50,399.24 L548.00,399.31 L548.50,399.38 L549.00,399.46 L549.50,399.53 L550.00,399.60 L550.50,399.66 L551.00,399.73 L551.50,399.80 L552.00,399.86 L552.50,399.92 L553.00,399.98 L553.50,400.04 L554.00,400.09 L554.50,400.15 L555.00,400.20 L555.50,400.25 L556.00,400.30 L556.00,400.30 Z" fill="#FDDBBB"/>
<path d="M165.00,400.30 L165.00,400.30 L165.50,400.30 L166.00,400.30 L166.50,400.29 L167.00,400.29 L167.50,400.28 L168.00,400.27 L168.50,400.27 L169.00,400.26 L169.50,400.25 L170.00,400.23 L170.50,400.22 L171.00,400.21 L171.50,400.20 L172.00,400.18 L172.50,400.17 L173.00,400.15 L173.50,400.13 L174.00,400.11 L174.50,400.10 L175.00,400.08 L175.50,400.06 L176.00,400.04 L176.50,400.01 L177.00,399.99 L177.50,399.97 L178.00,399.95 L178.50,399.93 L179.00,399.90 L179.50,399.88 L180.00,399.85 L180.50,399.83 L181.00,399.80 L181.50,399.78 L182.00,399.75 L182.50,399.73 L183.00,399.70 L183.50,399.68 L184.00,399.65 L184.50,399.63 L185.00,399.60 L185.50,399.57 L186.00,399.54 L186.50,399.51 L187.00,399.48 L187.50,399.44 L188.00,399.40 L188.50,399.36 L189.00,399.32 L189.50,399.28 L190.00,399.23 L190.50,399.19 L191.00,399.14 L191.50,399.09 L192.00,399.04 L192.50,398.99 L193.00,398.94 L193.50,398.89 L194.00,398.83 L194.50,398.78 L195.00,398.73 L195.50,398.67 L196.00,398.62 L196.50,398.57 L197.00,398.51 L197.50,398.46 L198.00,398.41 L198.50,398.35 L199.00,398.30 L199.50,398.25 L200.00,398.20 L200.50,398.15 L201.00,398.10 L201.50,398.05 L202.00,398.00 L202.50,397.95 L203.00,397.90 L203.50,397.85 L204.00,397.80 L204.50,397.75 L205.00,397.70 L205.50,397.64 L206.00,397.59 L206.50,397.54 L207.00,397.49 L207.50,397.43 L208.00,397.38 L208.50,397.33 L209.00,397.27 L209.50,397.22 L210.00,397.17 L210.50,397.11 L211.00,397.06 L211.50,397.00 L212.00,396.95 L212.50,396.89 L213.00,396.83 L213.50,396.77 L214.00,396.72 L214.50,396.66 L215.00,396.60 L215.50,396.54 L216.00,396.48 L216.50,396.42 L217.00,396.36 L217.50,396.30 L218.00,396.24 L218.50,396.17 L219.00,396.11 L219.50,396.05 L220.00,395.98 L220.50,395.92 L221.00,395.85 L221.50,395.78 L222.00,395.72 L222.50,395.65 L223.00,395.58 L223.50,395.51 L224.00,395.44 L224.50,395.37 L225.00,395.30 L225.50,395.23 L226.00,395.16 L226.50,395.10 L227.00,395.03 L227.50,394.97 L228.00,394.91 L228.50,394.84 L229.00,394.78 L229.50,394.72 L230.00,394.66 L230.50,394.59 L231.00,394.52 L231.50,394.46 L232.00,394.39 L232.50,394.31 L233.00,394.23 L233.50,394.15 L234.00,394.07 L234.50,393.98 L235.00,393.89 L235.50,393.79 L236.00,393.68 L236.50,393.57 L237.00,393.46 L237.50,393.33 L238.00,393.20 L238.50,393.05 L239.00,392.85 L239.50,392.63 L240.00,392.38 L240.50,392.10 L241.00,391.79 L241.50,391.47 L242.00,391.14 L242.50,390.79 L243.00,390.43 L243.50,390.07 L244.00,389.71 L244.50,389.35 L245.00,389.00 L245.50,388.64 L246.00,388.26 L246.50,387.86 L247.00,387.45 L247.50,387.03 L248.00,386.59 L248.50,386.16 L249.00,385.71 L249.50,385.28 L250.00,384.84 L250.50,384.41 L251.00,383.99 L251.50,383.59 L252.00,383.20 L252.50,382.83 L253.00,382.47 L253.50,382.12 L254.00,381.79 L254.50,381.45 L255.00,381.13 L255.50,380.80 L256.00,380.47 L256.50,380.13 L257.00,379.79 L257.50,379.44 L258.00,379.08 L258.50,378.70 L259.00,378.30 L259.50,377.88 L260.00,377.43 L260.50,376.96 L261.00,376.48 L261.50,375.98 L262.00,375.47 L262.50,374.95 L263.00,374.43 L263.50,373.92 L264.00,373.41 L264.50,372.90 L265.00,372.42 L265.50,371.95 L266.00,371.50 L266.50,371.08 L267.00,370.68 L267.50,370.29 L268.00,369.93 L268.50,369.57 L269.00,369.22 L269.50,368.87 L270.00,368.52 L270.50,368.17 L271.00,367.80 L271.50,367.42 L272.00,367.03 L272.50,366.61 L273.00,366.17 L273.50,365.70 L274.00,365.50 L274.50,365.36 L275.00,365.22 L275.50,365.09 L276.00,364.97 L276.50,364.85 L277.00,364.74 L277.50,364.62 L278.00,364.51 L278.50,364.40 L279.00,364.29 L279.50,364.17 L280.00,364.06 L280.50,363.93 L281.00,363.80 L281.50,363.67 L282.00,363.53 L282.50,363.40 L283.00,363.26 L283.50,363.12 L284.00,362.99 L284.50,362.84 L285.00,362.70 L285.50,362.55 L286.00,362.39 L286.50,362.23 L287.00,362.07 L287.50,361.89 L288.00,361.71 L288.50,361.52 L289.00,361.33 L289.50,361.13 L290.00,360.92 L290.50,360.70 L291.00,360.47 L291.50,360.24 L292.00,359.99 L292.50,359.74 L293.00,359.47 L293.50,359.20 L294.00,358.91 L294.50,358.61 L295.00,358.29 L295.50,357.97 L296.00,357.62 L296.50,357.24 L297.00,356.82 L297.50,356.38 L298.00,355.91 L298.50,355.41 L299.00,354.90 L299.50,354.37 L300.00,353.83 L300.50,353.28 L301.00,352.72 L301.50,352.16 L302.00,351.60 L302.50,351.04 L303.00,350.49 L303.50,349.93 L304.00,349.37 L304.50,348.79 L305.00,348.21 L305.50,347.62 L306.00,347.02 L306.50,346.41 L307.00,345.79 L307.50,345.15 L308.00,344.51 L308.50,343.86 L309.00,343.20 L309.50,342.53 L310.00,341.82 L310.50,341.07 L311.00,340.30 L311.50,339.50 L312.00,338.70 L312.50,337.88 L313.00,337.07 L313.50,336.27 L314.00,335.48 L314.50,334.72 L315.00,333.99 L315.50,333.29 L316.00,332.64 L316.50,332.04 L317.00,331.45 L317.50,330.86 L318.00,330.29 L318.50,329.72 L319.00,329.18 L319.50,328.64 L320.00,328.13 L320.50,327.64 L321.00,327.17 L321.50,326.73 L322.00,326.31 L322.50,325.92 L323.00,325.57 L323.50,325.24 L324.00,324.91 L324.50,324.60 L325.00,324.30 L325.50,324.01 L326.00,323.73 L326.50,323.47 L327.00,323.22 L327.50,322.98 L328.00,322.76 L328.50,322.55 L329.00,322.36 L329.50,322.19 L330.00,322.03 L330.50,321.89 L331.00,321.75 L331.50,321.62 L332.00,321.49 L332.50,321.38 L333.00,321.26 L333.50,321.16 L334.00,321.06 L334.50,320.96 L335.00,320.88 L335.50,320.80 L336.00,320.72 L336.50,320.66 L337.00,320.60 L337.50,320.55 L338.00,320.50 L338.50,320.46 L339.00,320.42 L339.50,320.39 L340.00,320.36 L340.50,320.33 L341.00,320.30 L341.50,320.27 L342.00,320.24 L342.50,320.21 L343.00,320.17 L343.50,320.14 L344.00,320.10 L344.50,320.05 L345.00,320.00 L345.50,319.94 L346.00,319.88 L346.50,319.80 L347.00,319.73 L347.50,319.64 L348.00,319.55 L348.50,319.46 L349.00,319.36 L349.50,319.26 L350.00,319.15 L350.50,319.04 L351.00,318.93 L351.50,318.82 L352.00,318.70 L352.50,318.59 L353.00,318.48 L353.50,318.36 L354.00,318.24 L354.50,318.12 L355.00,317.99 L355.50,317.86 L356.00,317.73 L356.50,317.59 L357.00,317.45 L357.50,317.31 L358.00,317.17 L358.50,317.02 L359.00,316.87 L359.50,316.72 L360.00,316.57 L360.50,316.41 L361.00,316.25 L361.50,316.09 L362.00,315.93 L362.50,315.77 L363.00,315.60 L363.50,315.44 L364.00,315.27 L364.50,315.10 L365.00,314.93 L365.50,314.76 L366.00,314.59 L366.50,314.41 L367.00,314.23 L367.50,314.04 L368.00,313.85 L368.50,313.66 L369.00,313.47 L369.50,313.27 L370.00,313.07 L370.50,312.87 L371.00,312.66 L371.50,312.46 L372.00,312.25 L372.50,312.04 L373.00,311.83 L373.50,311.62 L374.00,311.41 L374.50,311.20 L375.00,310.98 L375.50,310.77 L376.00,310.56 L376.50,310.34 L377.00,310.13 L377.50,309.91 L378.00,309.70 L378.50,309.49 L379.00,309.27 L379.50,309.06 L380.00,308.84 L380.50,308.62 L381.00,308.40 L381.50,308.18 L382.00,307.96 L382.50,307.74 L383.00,307.51 L383.50,307.29 L384.00,307.06 L384.50,306.83 L385.00,306.60 L385.50,306.37 L386.00,306.14 L386.50,305.90 L387.00,305.67 L387.50,305.43 L388.00,305.19 L388.50,304.94 L389.00,304.70 L389.50,304.45 L390.00,304.20 L390.50,303.94 L391.00,303.67 L391.50,303.40 L392.00,303.12 L392.50,302.84 L393.00,302.55 L393.50,302.26 L394.00,301.97 L394.50,301.68 L395.00,301.39 L395.50,301.10 L396.00,300.81 L396.50,300.52 L397.00,300.23 L397.50,299.94 L398.00,299.66 L398.50,299.38 L399.00,299.11 L399.50,298.84 L400.00,298.58 L400.50,298.33 L401.00,298.08 L401.50,297.85 L402.00,297.61 L402.50,297.36 L403.00,297.09 L403.50,296.82 L404.00,296.55 L404.50,296.28 L405.00,296.01 L405.50,295.76 L406.00,295.52 L406.50,295.31 L407.00,295.12 L407.50,294.96 L408.00,294.83 L408.50,294.75 L409.00,294.70 L409.50,294.70 L410.00,294.71 L410.50,294.71 L411.00,294.73 L411.50,294.74 L412.00,294.76 L412.50,294.79 L413.00,294.81 L413.50,294.85 L414.00,294.88 L414.50,294.92 L415.00,294.96 L415.50,295.00 L416.00,295.05 L416.50,295.10 L417.00,295.18 L417.50,295.30 L418.00,295.46 L418.50,295.66 L419.00,295.88 L419.50,296.12 L420.00,296.38 L420.50,296.64 L421.00,296.91 L421.50,297.21 L422.00,297.55 L422.50,297.92 L423.00,298.32 L423.50,298.75 L424.00,299.19 L424.50,299.65 L425.00,300.11 L425.50,300.58 L426.00,301.05 L426.50,301.52 L427.00,301.98 L427.50,302.44 L428.00,302.92 L428.50,303.41 L429.00,303.91 L429.50,304.42 L430.00,304.94 L430.50,305.46 L431.00,306.04 L431.50,307.07 L432.00,308.10 L432.50,309.15 L433.00,310.23 L433.50,311.34 L434.00,312.50 L434.50,313.74 L435.00,315.09 L435.50,316.51 L436.00,317.99 L436.50,319.49 L437.00,321.00 L437.50,322.50 L438.00,323.95 L438.50,325.34 L439.00,326.64 L439.50,327.84 L440.00,328.90 L440.50,329.85 L441.00,330.73 L441.50,331.55 L442.00,332.32 L442.50,333.07 L443.00,333.79 L443.50,334.50 L444.00,335.19 L444.50,335.86 L445.00,336.50 L445.50,337.12 L446.00,337.74 L446.50,338.37 L447.00,339.00 L447.50,339.65 L448.00,340.30 L448.50,340.96 L449.00,341.62 L449.50,342.26 L450.00,342.89 L450.50,343.50 L451.00,344.09 L451.50,344.66 L452.00,345.21 L452.50,345.76 L453.00,346.31 L453.50,346.85 L454.00,347.41 L454.50,347.98 L455.00,348.55 L455.50,349.12 L456.00,349.67 L456.50,350.21 L457.00,350.74 L457.50,351.25 L458.00,351.75 L458.50,352.25 L459.00,352.75 L459.50,353.25 L460.00,353.76 L460.50,354.28 L461.00,354.81 L461.50,355.36 L462.00,355.92 L462.50,356.48 L463.00,357.05 L463.50,357.62 L464.00,358.20 L464.50,358.78 L465.00,359.36 L465.50,359.94 L466.00,360.51 L466.50,361.07 L467.00,361.63 L467.50,362.18 L468.00,362.71 L468.50,363.23 L469.00,363.74 L469.50,364.23 L470.00,364.72 L470.50,365.21 L471.00,365.69 L471.50,366.17 L472.00,366.66 L472.50,367.16 L473.00,367.66 L473.50,368.18 L474.00,368.72 L474.50,369.27 L475.00,369.85 L475.50,370.47 L476.00,371.11 L476.50,371.78 L477.00,372.47 L477.50,373.17 L478.00,373.87 L478.50,374.58 L479.00,375.29 L479.50,375.99 L480.00,376.67 L480.50,377.33 L481.00,377.97 L481.50,378.57 L482.00,379.14 L482.50,379.73 L483.00,380.32 L483.50,380.91 L484.00,381.50 L484.50,382.08 L485.00,382.64 L485.50,383.18 L486.00,383.70 L486.50,384.18 L487.00,384.62 L487.50,385.01 L488.00,385.36 L488.50,385.65 L489.00,385.90 L489.50,386.14 L490.00,386.38 L490.50,386.62 L491.00,386.84 L491.50,387.05 L492.00,387.25 L492.50,387.43 L493.00,387.58 L493.50,387.72 L494.00,387.83 L494.50,387.92 L495.00,387.98 L495.50,388.00 L496.00,388.00 L496.50,387.98 L497.00,387.96 L497.50,387.93 L498.00,387.89 L498.50,387.85 L499.00,387.80 L499.50,387.76 L500.00,387.72 L500.50,387.68 L501.00,387.65 L501.50,387.62 L502.00,387.61 L502.50,387.60 L503.00,387.63 L503.50,387.70 L504.00,387.82 L504.50,387.98 L505.00,388.17 L505.50,388.38 L506.00,388.62 L506.50,388.86 L507.00,389.12 L507.50,389.38 L508.00,389.63 L508.50,389.87 L509.00,390.10 L509.50,390.30 L510.00,390.49 L510.50,390.69 L511.00,390.90 L511.50,391.11 L512.00,391.32 L512.50,391.53 L513.00,391.74 L513.50,391.95 L514.00,392.16 L514.50,392.36 L515.00,392.56 L515.50,392.75 L516.00,392.94 L516.50,393.12 L517.00,393.29 L517.50,393.44 L518.00,393.59 L518.50,393.73 L519.00,393.85 L519.50,393.96 L520.00,394.06 L520.50,394.16 L521.00,394.26 L521.50,394.35 L522.00,394.43 L522.50,394.52 L523.00,394.60 L523.50,394.67 L524.00,394.75 L524.50,394.83 L525.00,394.90 L525.50,394.98 L526.00,395.06 L526.50,395.14 L527.00,395.22 L527.50,395.31 L528.00,395.40 L528.50,395.49 L529.00,395.59 L529.50,395.69 L530.00,395.79 L530.50,395.89 L531.00,395.99 L531.50,396.10 L532.00,396.20 L532.50,396.31 L533.00,396.41 L533.50,396.52 L534.00,396.62 L534.50,396.73 L535.00,396.83 L535.50,396.93 L536.00,397.04 L536.50,397.14 L537.00,397.24 L537.50,397.34 L538.00,397.44 L538.50,397.54 L539.00,397.65 L539.50,397.75 L540.00,397.85 L540.50,397.96 L541.00,398.06 L541.50,398.16 L542.00,398.26 L542.50,398.36 L543.00,398.46 L543.50,398.56 L544.00,398.65 L544.50,398.75 L545.00,398.83 L545.50,398.92 L546.00,399.00 L546.50,399.08 L547.00,399.16 L547.50,399.24 L548.00,399.31 L548.50,399.38 L549.00,399.46 L549.50,399.53 L550.00,399.60 L550.50,399.66 L551.00,399.73 L551.50,399.80 L552.00,399.86 L552.50,399.92 L553.00,399.98 L553.50,400.04 L554.00,400.09 L554.50,400.15 L555.00,400.20 L555.50,400.25 L556.00,400.30 L556.00,400.30 Z" fill="#BFB3D4"/>
<path d="M165.00,400.30 L165.50,400.30 L166.00,400.30 L166.50,400.29 L167.00,400.29 L167.50,400.28 L168.00,400.27 L168.50,400.27 L169.00,400.26 L169.50,400.25 L170.00,400.23 L170.50,400.22 L171.00,400.21 L171.50,400.20 L172.00,400.18 L172.50,400.17 L173.00,400.15 L173.50,400.13 L174.00,400.11 L174.50,400.10 L175.00,400.08 L175.50,400.06 L176.00,400.04 L176.50,400.01 L177.00,399.99 L177.50,399.97 L178.00,399.95 L178.50,399.93 L179.00,399.90 L179.50,399.88 L180.00,399.85 L180.50,399.83 L181.00,399.80 L181.50,399.78 L182.00,399.75 L182.50,399.73 L183.00,399.70 L183.50,399.68 L184.00,399.65 L184.50,399.63 L185.00,399.60 L185.50,399.57 L186.00,399.54 L186.50,399.51 L187.00,399.48 L187.50,399.44 L188.00,399.40 L188.50,399.36 L189.00,399.32 L189.50,399.28 L190.00,399.23 L190.50,399.19 L191.00,399.14 L191.50,399.09 L192.00,399.04 L192.50,398.99 L193.00,398.94 L193.50,398.89 L194.00,398.83 L194.50,398.78 L195.00,398.73 L195.50,398.67 L196.00,398.62 L196.50,398.57 L197.00,398.51 L197.50,398.46 L198.00,398.41 L198.50,398.35 L199.00,398.30 L199.50,398.25 L200.00,398.20 L200.50,398.15 L201.00,398.10 L201.50,398.05 L202.00,398.00 L202.50,397.95 L203.00,397.90 L203.50,397.85 L204.00,397.80 L204.50,397.75 L205.00,397.70 L205.50,397.64 L206.00,397.59 L206.50,397.54 L207.00,397.49 L207.50,397.43 L208.00,397.38 L208.50,397.33 L209.00,397.27 L209.50,397.22 L210.00,397.17 L210.50,397.11 L211.00,397.06 L211.50,397.00 L212.00,396.95 L212.50,396.89 L213.00,396.83 L213.50,396.77 L214.00,396.72 L214.50,396.66 L215.00,396.60 L215.50,396.54 L216.00,396.48 L216.50,396.42 L217.00,396.36 L217.50,396.30 L218.00,396.24 L218.50,396.17 L219.00,396.11 L219.50,396.05 L220.00,395.98 L220.50,395.92 L221.00,395.85 L221.50,395.78 L222.00,395.72 L222.50,395.65 L223.00,395.58 L223.50,395.51 L224.00,395.44 L224.50,395.37 L225.00,395.30 L225.50,395.23 L226.00,395.16 L226.50,395.10 L227.00,395.03 L227.50,394.97 L228.00,394.91 L228.50,394.84 L229.00,394.78 L229.50,394.72 L230.00,394.66 L230.50,394.59 L231.00,394.52 L231.50,394.46 L232.00,394.39 L232.50,394.31 L233.00,394.23 L233.50,394.15 L234.00,394.07 L234.50,393.98 L235.00,393.89 L235.50,393.79 L236.00,393.68 L236.50,393.57 L237.00,393.46 L237.50,393.33 L238.00,393.20 L238.50,393.05 L239.00,392.85 L239.50,392.63 L240.00,392.38 L240.50,392.10 L241.00,391.79 L241.50,391.47 L242.00,391.14 L242.50,390.79 L243.00,390.43 L243.50,390.07 L244.00,389.71 L244.50,389.35 L245.00,389.00 L245.50,388.64 L246.00,388.26 L246.50,387.86 L247.00,387.45 L247.50,387.03 L248.00,386.59 L248.50,386.16 L249.00,385.71 L249.50,385.28 L250.00,384.84 L250.50,384.41 L251.00,383.99 L251.50,383.59 L252.00,383.20 L252.50,382.83 L253.00,382.47 L253.50,382.12 L254.00,381.79 L254.50,381.45 L255.00,381.13 L255.50,380.80 L256.00,380.47 L256.50,380.13 L257.00,379.79 L257.50,379.44 L258.00,379.08 L258.50,378.70 L259.00,378.30 L259.50,377.88 L260.00,377.43 L260.50,376.96 L261.00,376.48 L261.50,375.98 L262.00,375.47 L262.50,374.95 L263.00,374.43 L263.50,373.92 L264.00,373.41 L264.50,372.90 L265.00,372.42 L265.50,371.95 L266.00,371.50 L266.50,371.08 L267.00,370.68 L267.50,370.29 L268.00,369.93 L268.50,369.57 L269.00,369.22 L269.50,368.87 L270.00,368.52 L270.50,368.17 L271.00,367.80 L271.50,367.42 L272.00,367.03 L272.50,366.61 L273.00,366.17 L273.50,365.70 L274.00,365.20 L274.50,364.65 L275.00,364.03 L275.50,363.37 L276.00,362.66 L276.50,361.92 L277.00,361.16 L277.50,360.37 L278.00,359.58 L278.50,358.79 L279.00,358.00 L279.50,357.20 L280.00,356.37 L280.50,355.52 L281.00,354.65 L281.50,353.77 L282.00,352.89 L282.50,352.02 L283.00,351.16 L283.50,350.31 L284.00,349.50 L284.50,348.71 L285.00,347.92 L285.50,347.14 L286.00,346.37 L286.50,345.61 L287.00,344.86 L287.50,344.12 L288.00,343.38 L288.50,342.65 L289.00,341.93 L289.50,341.21 L290.00,340.50 L290.50,339.80 L291.00,339.12 L291.50,338.46 L292.00,337.80 L292.50,337.15 L293.00,336.50 L293.50,335.85 L294.00,335.20 L294.50,334.54 L295.00,333.88 L295.50,333.20 L296.00,332.50 L296.50,331.79 L297.00,331.06 L297.50,330.32 L298.00,329.58 L298.50,328.83 L299.00,328.07 L299.50,327.30 L300.00,326.54 L300.50,325.77 L301.00,325.01 L301.50,324.25 L302.00,323.50 L302.50,322.75 L303.00,321.98 L303.50,321.22 L304.00,320.44 L304.50,319.67 L305.00,318.89 L305.50,318.12 L306.00,317.34 L306.50,316.57 L307.00,315.80 L307.50,315.04 L308.00,314.28 L308.50,313.54 L309.00,312.80 L309.50,312.08 L310.00,311.37 L310.50,310.68 L311.00,310.00 L311.50,309.35 L312.00,308.72 L312.50,308.11 L313.00,307.51 L313.50,306.92 L314.00,306.32 L314.50,305.71 L315.00,305.09 L315.50,304.44 L316.00,303.80 L316.50,303.16 L317.00,302.52 L317.50,301.87 L318.00,301.19 L318.50,300.49 L319.00,299.74 L319.50,298.94 L320.00,298.07 L320.50,297.10 L321.00,296.04 L321.50,294.92 L322.00,293.75 L322.50,292.57 L323.00,291.38 L323.50,290.22 L324.00,289.10 L324.50,287.88 L325.00,286.54 L325.50,285.24 L326.00,284.19 L326.50,283.56 L327.00,283.33 L327.50,283.16 L328.00,283.02 L328.50,282.91 L329.00,282.82 L329.50,282.74 L330.00,282.66 L330.50,282.58 L331.00,282.49 L331.50,282.38 L332.00,282.24 L332.50,282.11 L333.00,281.98 L333.50,281.84 L334.00,281.70 L334.50,281.54 L335.00,281.37 L335.50,281.17 L336.00,280.95 L336.50,280.69 L337.00,280.40 L337.50,279.93 L338.00,279.20 L338.50,278.28 L339.00,277.24 L339.50,276.15 L340.00,275.08 L340.50,274.11 L341.00,273.29 L341.50,272.53 L342.00,271.82 L342.50,271.13 L343.00,270.46 L343.50,269.80 L344.00,269.14 L344.50,268.49 L345.00,267.82 L345.50,267.13 L346.00,266.41 L346.50,265.66 L347.00,264.86 L347.50,264.01 L348.00,263.12 L348.50,262.21 L349.00,261.29 L349.50,260.37 L350.00,259.46 L350.50,258.57 L351.00,257.73 L351.50,256.90 L352.00,256.02 L352.50,255.13 L353.00,254.26 L353.50,253.47 L354.00,252.81 L354.50,252.33 L355.00,252.04 L355.50,251.78 L356.00,251.54 L356.50,251.34 L357.00,251.18 L357.50,251.06 L358.00,251.01 L358.50,251.04 L359.00,251.28 L359.50,251.68 L360.00,252.19 L360.50,252.75 L361.00,253.31 L361.50,253.82 L362.00,254.22 L362.50,254.46 L363.00,254.49 L363.50,254.36 L364.00,254.13 L364.50,253.82 L365.00,253.48 L365.50,253.14 L366.00,252.85 L366.50,252.61 L367.00,252.37 L367.50,252.12 L368.00,251.88 L368.50,251.67 L369.00,251.51 L369.50,251.42 L370.00,251.42 L370.50,251.64 L371.00,252.05 L371.50,252.58 L372.00,253.18 L372.50,253.92 L373.00,255.01 L373.50,256.28 L374.00,257.57 L374.50,258.71 L375.00,259.78 L375.50,260.83 L376.00,261.85 L376.50,262.83 L377.00,263.76 L377.50,264.69 L378.00,265.61 L378.50,266.50 L379.00,267.34 L379.50,268.10 L380.00,268.77 L380.50,269.33 L381.00,269.82 L381.50,270.27 L382.00,270.68 L382.50,271.06 L383.00,271.44 L383.50,271.82 L384.00,272.20 L384.50,272.54 L385.00,272.87 L385.50,273.21 L386.00,273.58 L386.50,274.00 L387.00,274.53 L387.50,275.17 L388.00,275.89 L388.50,276.65 L389.00,277.42 L389.50,278.16 L390.00,278.84 L390.50,279.43 L391.00,279.88 L391.50,280.30 L392.00,280.71 L392.50,281.10 L393.00,281.44 L393.50,281.72 L394.00,281.91 L394.50,282.00 L395.00,281.96 L395.50,281.83 L396.00,281.63 L396.50,281.38 L397.00,281.10 L397.50,280.83 L398.00,280.58 L398.50,280.37 L399.00,280.14 L399.50,279.89 L400.00,279.64 L400.50,279.42 L401.00,279.24 L401.50,279.13 L402.00,279.10 L402.50,279.17 L403.00,279.32 L403.50,279.52 L404.00,279.72 L404.50,279.91 L405.00,280.05 L405.50,280.10 L406.00,280.07 L406.50,280.00 L407.00,279.88 L407.50,279.73 L408.00,279.56 L408.50,279.37 L409.00,279.18 L409.50,278.96 L410.00,278.62 L410.50,278.20 L411.00,277.73 L411.50,277.25 L412.00,276.81 L412.50,276.44 L413.00,276.19 L413.50,276.10 L414.00,276.13 L414.50,276.20 L415.00,276.32 L415.50,276.48 L416.00,276.67 L416.50,276.90 L417.00,277.42 L417.50,278.38 L418.00,279.64 L418.50,281.04 L419.00,282.41 L419.50,283.63 L420.00,284.79 L420.50,285.98 L421.00,287.17 L421.50,288.32 L422.00,289.40 L422.50,290.38 L423.00,291.28 L423.50,292.13 L424.00,292.93 L424.50,293.71 L425.00,294.48 L425.50,295.27 L426.00,296.08 L426.50,296.94 L427.00,297.86 L427.50,298.82 L428.00,299.82 L428.50,300.84 L429.00,301.88 L429.50,302.93 L430.00,303.97 L430.50,305.01 L431.00,306.04 L431.50,307.07 L432.00,308.10 L432.50,309.15 L433.00,310.23 L433.50,311.34 L434.00,312.50 L434.50,313.74 L435.00,315.09 L435.50,316.51 L436.00,317.99 L436.50,319.49 L437.00,321.00 L437.50,322.50 L438.00,323.95 L438.50,325.34 L439.00,326.64 L439.50,327.84 L440.00,328.90 L440.50,329.85 L441.00,330.73 L441.50,331.55 L442.00,332.32 L442.50,333.07 L443.00,333.79 L443.50,334.50 L444.00,335.19 L444.50,335.86 L445.00,336.50 L445.50,337.12 L446.00,337.74 L446.50,338.37 L447.00,339.00 L447.50,339.65 L448.00,340.30 L448.50,340.96 L449.00,341.62 L449.50,342.26 L450.00,342.89 L450.50,343.50 L451.00,344.09 L451.50,344.66 L452.00,345.21 L452.50,345.76 L453.00,346.31 L453.50,346.85 L454.00,347.41 L454.50,347.98 L455.00,348.55 L455.50,349.12 L456.00,349.67 L456.50,350.21 L457.00,350.74 L457.50,351.25 L458.00,351.75 L458.50,352.25 L459.00,352.75 L459.50,353.25 L460.00,353.76 L460.50,354.28 L461.00,354.81 L461.50,355.36 L462.00,355.92 L462.50,356.48 L463.00,357.05 L463.50,357.62 L464.00,358.20 L464.50,358.78 L465.00,359.36 L465.50,359.94 L466.00,360.51 L466.50,361.07 L467.00,361.63 L467.50,362.18 L468.00,362.71 L468.50,363.23 L469.00,363.74 L469.50,364.23 L470.00,364.72 L470.50,365.21 L471.00,365.69 L471.50,366.17 L472.00,366.66 L472.50,367.16 L473.00,367.66 L473.50,368.18 L474.00,368.72 L474.50,369.27 L475.00,369.85 L475.50,370.47 L476.00,371.11 L476.50,371.78 L477.00,372.47 L477.50,373.17 L478.00,373.87 L478.50,374.58 L479.00,375.29 L479.50,375.99 L480.00,376.67 L480.50,377.33 L481.00,377.97 L481.50,378.57 L482.00,379.14 L482.50,379.73 L483.00,380.32 L483.50,380.91 L484.00,381.50 L484.50,382.08 L485.00,382.64 L485.50,383.18 L486.00,383.70 L486.50,384.18 L487.00,384.62 L487.50,385.01 L488.00,385.36 L488.50,385.65 L489.00,385.90 L489.50,386.14 L490.00,386.38 L490.50,386.62 L491.00,386.84 L491.50,387.05 L492.00,387.25 L492.50,387.43 L493.00,387.58 L493.50,387.72 L494.00,387.83 L494.50,387.92 L495.00,387.98 L495.50,388.00 L496.00,388.00 L496.50,387.98 L497.00,387.96 L497.50,387.93 L498.00,387.89 L498.50,387.85 L499.00,387.80 L499.50,387.76 L500.00,387.72 L500.50,387.68 L501.00,387.65 L501.50,387.62 L502.00,387.61 L502.50,387.60 L503.00,387.63 L503.50,387.70 L504.00,387.82 L504.50,387.98 L505.00,388.17 L505.50,388.38 L506.00,388.62 L506.50,388.86 L507.00,389.12 L507.50,389.38 L508.00,389.63 L508.50,389.87 L509.00,390.10 L509.50,390.30 L510.00,390.49 L510.50,390.69 L511.00,390.90 L511.50,391.11 L512.00,391.32 L512.50,391.53 L513.00,391.74 L513.50,391.95 L514.00,392.16 L514.50,392.36 L515.00,392.56 L515.50,392.75 L516.00,392.94 L516.50,393.12 L517.00,393.29 L517.50,393.44 L518.00,393.59 L518.50,393.73 L519.00,393.85 L519.50,393.96 L520.00,394.06 L520.50,394.16 L521.00,394.26 L521.50,394.35 L522.00,394.43 L522.50,394.52 L523.00,394.60 L523.50,394.67 L524.00,394.75 L524.50,394.83 L525.00,394.90 L525.50,394.98 L526.00,395.06 L526.50,395.14 L527.00,395.22 L527.50,395.31 L528.00,395.40 L528.50,395.49 L529.00,395.59 L529.50,395.69 L530.00,395.79 L530.50,395.89 L531.00,395.99 L531.50,396.10 L532.00,396.20 L532.50,396.31 L533.00,396.41 L533.50,396.52 L534.00,396.62 L534.50,396.73 L535.00,396.83 L535.50,396.93 L536.00,397.04 L536.50,397.14 L537.00,397.24 L537.50,397.34 L538.00,397.44 L538.50,397.54 L539.00,397.65 L539.50,397.75 L540.00,397.85 L540.50,397.96 L541.00,398.06 L541.50,398.16 L542.00,398.26 L542.50,398.36 L543.00,398.46 L543.50,398.56 L544.00,398.65 L544.50,398.75 L545.00,398.83 L545.50,398.92 L546.00,399.00 L546.50,399.08 L547.00,399.16 L547.50,399.24 L548.00,399.31 L548.50,399.38 L549.00,399.46 L549.50,399.53 L550.00,399.60 L550.50,399.66 L551.00,399.73 L551.50,399.80 L552.00,399.86 L552.50,399.92 L553.00,399.98 L553.50,400.04 L554.00,400.09 L554.50,400.15 L555.00,400.20 L555.50,400.25 L556.00,400.30" fill="none" stroke="#E39A5E" stroke-width="1.0"/>
<path d="M93.00,400.30 L93.50,400.30 L94.00,400.30 L94.50,400.30 L95.00,400.30 L95.50,400.30 L96.00,400.30 L96.50,400.30 L97.00,400.30 L97.50,400.30 L98.00,400.30 L98.50,400.30 L99.00,400.30 L99.50,400.30 L100.00,400.30 L100.50,400.30 L101.00,400.30 L101.50,400.30 L102.00,400.30 L102.50,400.30 L103.00,400.30 L103.50,400.30 L104.00,400.29 L104.50,400.29 L105.00,400.29 L105.50,400.29 L106.00,400.29 L106.50,400.29 L107.00,400.29 L107.50,400.29 L108.00,400.29 L108.50,400.29 L109.00,400.29 L109.50,400.29 L110.00,400.29 L110.50,400.29 L111.00,400.28 L111.50,400.28 L112.00,400.28 L112.50,400.28 L113.00,400.28 L113.50,400.28 L114.00,400.28 L114.50,400.28 L115.00,400.28 L115.50,400.28 L116.00,400.27 L116.50,400.27 L117.00,400.27 L117.50,400.27 L118.00,400.27 L118.50,400.27 L119.00,400.27 L119.50,400.26 L120.00,400.26 L120.50,400.26 L121.00,400.26 L121.50,400.26 L122.00,400.26 L122.50,400.26 L123.00,400.25 L123.50,400.25 L124.00,400.25 L124.50,400.25 L125.00,400.25 L125.50,400.24 L126.00,400.24 L126.50,400.24 L127.00,400.24 L127.50,400.24 L128.00,400.23 L128.50,400.23 L129.00,400.23 L129.50,400.23 L130.00,400.23 L130.50,400.22 L131.00,400.22 L131.50,400.22 L132.00,400.22 L132.50,400.21 L133.00,400.21 L133.50,400.21 L134.00,400.21 L134.50,400.20 L135.00,400.20 L135.50,400.20 L136.00,400.20 L136.50,400.19 L137.00,400.19 L137.50,400.19 L138.00,400.18 L138.50,400.18 L139.00,400.18 L139.50,400.18 L140.00,400.17 L140.50,400.17 L141.00,400.17 L141.50,400.16 L142.00,400.16 L142.50,400.16 L143.00,400.15 L143.50,400.15 L144.00,400.15 L144.50,400.14 L145.00,400.14 L145.50,400.13 L146.00,400.13 L146.50,400.13 L147.00,400.12 L147.50,400.12 L148.00,400.12 L148.50,400.11 L149.00,400.11 L149.50,400.10 L150.00,400.10 L150.50,400.09 L151.00,400.09 L151.50,400.07 L152.00,400.06 L152.50,400.04 L153.00,400.02 L153.50,400.00 L154.00,399.98 L154.50,399.95 L155.00,399.93 L155.50,399.90 L156.00,399.87 L156.50,399.84 L157.00,399.81 L157.50,399.77 L158.00,399.74 L158.50,399.71 L159.00,399.67 L159.50,399.64 L160.00,399.60 L160.50,399.56 L161.00,399.52 L161.50,399.48 L162.00,399.43 L162.50,399.38 L163.00,399.32 L163.50,399.26 L164.00,399.20 L164.50,399.14 L165.00,399.07 L165.50,399.01 L166.00,398.94 L166.50,398.86 L167.00,398.79 L167.50,398.72 L168.00,398.64 L168.50,398.57 L169.00,398.49 L169.50,398.41 L170.00,398.34 L170.50,398.26 L171.00,398.18 L171.50,398.11 L172.00,398.03 L172.50,397.96 L173.00,397.88 L173.50,397.81 L174.00,397.74 L174.50,397.67 L175.00,397.60 L175.50,397.53 L176.00,397.46 L176.50,397.39 L177.00,397.32 L177.50,397.24 L178.00,397.16 L178.50,397.09 L179.00,397.01 L179.50,396.93 L180.00,396.85 L180.50,396.77 L181.00,396.69 L181.50,396.62 L182.00,396.54 L182.50,396.46 L183.00,396.39 L183.50,396.31 L184.00,396.24 L184.50,396.17 L185.00,396.10 L185.50,396.04 L186.00,395.97 L186.50,395.91 L187.00,395.86 L187.50,395.80 L188.00,395.76 L188.50,395.71 L189.00,395.67 L189.50,395.63 L190.00,395.60 L190.50,395.57 L191.00,395.54 L191.50,395.51 L192.00,395.48 L192.50,395.45 L193.00,395.43 L193.50,395.40 L194.00,395.37 L194.50,395.35 L195.00,395.33 L195.50,395.30 L196.00,395.28 L196.50,395.27 L197.00,395.25 L197.50,395.23 L198.00,395.22 L198.50,395.21 L199.00,395.21 L199.50,395.20 L200.00,395.20 L200.50,395.20 L201.00,395.20 L201.50,395.21 L202.00,395.21 L202.50,395.22 L203.00,395.23 L203.50,395.24 L204.00,395.25 L204.50,395.26 L205.00,395.27 L205.50,395.28 L206.00,395.29 L206.50,395.30 L207.00,395.31 L207.50,395.32 L208.00,395.33 L208.50,395.34 L209.00,395.35 L209.50,395.36 L210.00,395.37 L210.50,395.38 L211.00,395.39 L211.50,395.39 L212.00,395.40 L212.50,395.40 L213.00,395.40 L213.50,395.39 L214.00,395.37 L214.50,395.33 L215.00,395.27 L215.50,395.21 L216.00,395.13 L216.50,395.04 L217.00,394.94 L217.50,394.83 L218.00,394.71 L218.50,394.59 L219.00,394.46 L219.50,394.32 L220.00,394.18 L220.50,394.04 L221.00,393.89 L221.50,393.75 L222.00,393.60 L222.50,393.44 L223.00,393.25 L223.50,393.05 L224.00,392.82 L224.50,392.57 L225.00,392.31 L225.50,392.04 L226.00,391.75 L226.50,391.45 L227.00,391.15 L227.50,390.84 L228.00,390.53 L228.50,390.22 L229.00,389.91 L229.50,389.60 L230.00,389.30 L230.50,389.00 L231.00,388.68 L231.50,388.36 L232.00,388.03 L232.50,387.70 L233.00,387.36 L233.50,387.01 L234.00,386.67 L234.50,386.32 L235.00,385.98 L235.50,385.63 L236.00,385.29 L236.50,384.96 L237.00,384.63 L237.50,384.31 L238.00,384.00 L238.50,383.70 L239.00,383.40 L239.50,383.10 L240.00,382.82 L240.50,382.53 L241.00,382.25 L241.50,381.96 L242.00,381.68 L242.50,381.40 L243.00,381.13 L243.50,380.85 L244.00,380.57 L244.50,380.28 L245.00,380.00 L245.50,379.71 L246.00,379.43 L246.50,379.14 L247.00,378.86 L247.50,378.57 L248.00,378.29 L248.50,378.00 L249.00,377.71 L249.50,377.43 L250.00,377.14 L250.50,376.86 L251.00,376.57 L251.50,376.29 L252.00,376.00 L252.50,375.71 L253.00,375.42 L253.50,375.13 L254.00,374.84 L254.50,374.54 L255.00,374.25 L255.50,373.96 L256.00,373.67 L256.50,373.38 L257.00,373.09 L257.50,372.81 L258.00,372.54 L258.50,372.26 L259.00,372.00 L259.50,371.74 L260.00,371.48 L260.50,371.23 L261.00,370.97 L261.50,370.72 L262.00,370.48 L262.50,370.23 L263.00,369.99 L263.50,369.75 L264.00,369.52 L264.50,369.29 L265.00,369.06 L265.50,368.84 L266.00,368.62 L266.50,368.40 L267.00,368.19 L267.50,367.97 L268.00,367.76 L268.50,367.55 L269.00,367.34 L269.50,367.13 L270.00,366.93 L270.50,366.73 L271.00,366.53 L271.50,366.34 L272.00,366.16 L272.50,365.98 L273.00,365.81 L273.50,365.65 L274.00,365.50 L274.50,365.36 L275.00,365.22 L275.50,365.09 L276.00,364.97 L276.50,364.85 L277.00,364.74 L277.50,364.62 L278.00,364.51 L278.50,364.40 L279.00,364.29 L279.50,364.17 L280.00,364.06 L280.50,363.93 L281.00,363.80 L281.50,363.67 L282.00,363.53 L282.50,363.40 L283.00,363.26 L283.50,363.12 L284.00,362.99 L284.50,362.84 L285.00,362.70 L285.50,362.55 L286.00,362.39 L286.50,362.23 L287.00,362.07 L287.50,361.89 L288.00,361.71 L288.50,361.52 L289.00,361.33 L289.50,361.13 L290.00,360.92 L290.50,360.70 L291.00,360.47 L291.50,360.24 L292.00,359.99 L292.50,359.74 L293.00,359.47 L293.50,359.20 L294.00,358.91 L294.50,358.61 L295.00,358.29 L295.50,357.97 L296.00,357.62 L296.50,357.24 L297.00,356.82 L297.50,356.38 L298.00,355.91 L298.50,355.41 L299.00,354.90 L299.50,354.37 L300.00,353.83 L300.50,353.28 L301.00,352.72 L301.50,352.16 L302.00,351.60 L302.50,351.04 L303.00,350.49 L303.50,349.93 L304.00,349.37 L304.50,348.79 L305.00,348.21 L305.50,347.62 L306.00,347.02 L306.50,346.41 L307.00,345.79 L307.50,345.15 L308.00,344.51 L308.50,343.86 L309.00,343.20 L309.50,342.53 L310.00,341.82 L310.50,341.07 L311.00,340.30 L311.50,339.50 L312.00,338.70 L312.50,337.88 L313.00,337.07 L313.50,336.27 L314.00,335.48 L314.50,334.72 L315.00,333.99 L315.50,333.29 L316.00,332.64 L316.50,332.04 L317.00,331.45 L317.50,330.86 L318.00,330.29 L318.50,329.72 L319.00,329.18 L319.50,328.64 L320.00,328.13 L320.50,327.64 L321.00,327.17 L321.50,326.73 L322.00,326.31 L322.50,325.92 L323.00,325.57 L323.50,325.24 L324.00,324.91 L324.50,324.60 L325.00,324.30 L325.50,324.01 L326.00,323.73 L326.50,323.47 L327.00,323.22 L327.50,322.98 L328.00,322.76 L328.50,322.55 L329.00,322.36 L329.50,322.19 L330.00,322.03 L330.50,321.89 L331.00,321.75 L331.50,321.62 L332.00,321.49 L332.50,321.38 L333.00,321.26 L333.50,321.16 L334.00,321.06 L334.50,320.96 L335.00,320.88 L335.50,320.80 L336.00,320.72 L336.50,320.66 L337.00,320.60 L337.50,320.55 L338.00,320.50 L338.50,320.46 L339.00,320.42 L339.50,320.39 L340.00,320.36 L340.50,320.33 L341.00,320.30 L341.50,320.27 L342.00,320.24 L342.50,320.21 L343.00,320.17 L343.50,320.14 L344.00,320.10 L344.50,320.05 L345.00,320.00 L345.50,319.94 L346.00,319.88 L346.50,319.80 L347.00,319.73 L347.50,319.64 L348.00,319.55 L348.50,319.46 L349.00,319.36 L349.50,319.26 L350.00,319.15 L350.50,319.04 L351.00,318.93 L351.50,318.82 L352.00,318.70 L352.50,318.59 L353.00,318.48 L353.50,318.36 L354.00,318.24 L354.50,318.12 L355.00,317.99 L355.50,317.86 L356.00,317.73 L356.50,317.59 L357.00,317.45 L357.50,317.31 L358.00,317.17 L358.50,317.02 L359.00,316.87 L359.50,316.72 L360.00,316.57 L360.50,316.41 L361.00,316.25 L361.50,316.09 L362.00,315.93 L362.50,315.77 L363.00,315.60 L363.50,315.44 L364.00,315.27 L364.50,315.10 L365.00,314.93 L365.50,314.76 L366.00,314.59 L366.50,314.41 L367.00,314.23 L367.50,314.04 L368.00,313.85 L368.50,313.66 L369.00,313.47 L369.50,313.27 L370.00,313.07 L370.50,312.87 L371.00,312.66 L371.50,312.46 L372.00,312.25 L372.50,312.04 L373.00,311.83 L373.50,311.62 L374.00,311.41 L374.50,311.20 L375.00,310.98 L375.50,310.77 L376.00,310.56 L376.50,310.34 L377.00,310.13 L377.50,309.91 L378.00,309.70 L378.50,309.49 L379.00,309.27 L379.50,309.06 L380.00,308.84 L380.50,308.62 L381.00,308.40 L381.50,308.18 L382.00,307.96 L382.50,307.74 L383.00,307.51 L383.50,307.29 L384.00,307.06 L384.50,306.83 L385.00,306.60 L385.50,306.37 L386.00,306.14 L386.50,305.90 L387.00,305.67 L387.50,305.43 L388.00,305.19 L388.50,304.94 L389.00,304.70 L389.50,304.45 L390.00,304.20 L390.50,303.94 L391.00,303.67 L391.50,303.40 L392.00,303.12 L392.50,302.84 L393.00,302.55 L393.50,302.26 L394.00,301.97 L394.50,301.68 L395.00,301.39 L395.50,301.10 L396.00,300.81 L396.50,300.52 L397.00,300.23 L397.50,299.94 L398.00,299.66 L398.50,299.38 L399.00,299.11 L399.50,298.84 L400.00,298.58 L400.50,298.33 L401.00,298.08 L401.50,297.85 L402.00,297.61 L402.50,297.36 L403.00,297.09 L403.50,296.82 L404.00,296.55 L404.50,296.28 L405.00,296.01 L405.50,295.76 L406.00,295.52 L406.50,295.31 L407.00,295.12 L407.50,294.96 L408.00,294.83 L408.50,294.75 L409.00,294.70 L409.50,294.70 L410.00,294.71 L410.50,294.71 L411.00,294.73 L411.50,294.74 L412.00,294.76 L412.50,294.79 L413.00,294.81 L413.50,294.85 L414.00,294.88 L414.50,294.92 L415.00,294.96 L415.50,295.00 L416.00,295.05 L416.50,295.10 L417.00,295.18 L417.50,295.30 L418.00,295.46 L418.50,295.66 L419.00,295.88 L419.50,296.12 L420.00,296.38 L420.50,296.64 L421.00,296.91 L421.50,297.21 L422.00,297.55 L422.50,297.92 L423.00,298.32 L423.50,298.75 L424.00,299.19 L424.50,299.65 L425.00,300.11 L425.50,300.58 L426.00,301.05 L426.50,301.52 L427.00,301.98 L427.50,302.44 L428.00,302.92 L428.50,303.41 L429.00,303.91 L429.50,304.42 L430.00,304.94 L430.50,305.46 L431.00,306.00 L431.50,306.55 L432.00,307.13 L432.50,307.72 L433.00,308.33 L433.50,308.94 L434.00,309.55 L434.50,310.15 L435.00,310.74 L435.50,311.31 L436.00,311.89 L436.50,312.48 L437.00,313.07 L437.50,313.65 L438.00,314.22 L438.50,314.77 L439.00,315.29 L439.50,315.77 L440.00,316.20 L440.50,316.60 L441.00,316.99 L441.50,317.36 L442.00,317.73 L442.50,318.08 L443.00,318.42 L443.50,318.74 L444.00,319.06 L444.50,319.37 L445.00,319.67 L445.50,319.97 L446.00,320.25 L446.50,320.53 L447.00,320.80 L447.50,321.07 L448.00,321.33 L448.50,321.59 L449.00,321.85 L449.50,322.10 L450.00,322.34 L450.50,322.57 L451.00,322.79 L451.50,323.01 L452.00,323.22 L452.50,323.42 L453.00,323.62 L453.50,323.81 L454.00,324.01 L454.50,324.20 L455.00,324.39 L455.50,324.59 L456.00,324.79 L456.50,325.00 L457.00,325.21 L457.50,325.43 L458.00,325.66 L458.50,325.90 L459.00,326.15 L459.50,326.40 L460.00,326.66 L460.50,326.93 L461.00,327.20 L461.50,327.47 L462.00,327.75 L462.50,328.04 L463.00,328.32 L463.50,328.62 L464.00,328.92 L464.50,329.22 L465.00,329.52 L465.50,329.83 L466.00,330.15 L466.50,330.46 L467.00,330.78 L467.50,331.11 L468.00,331.43 L468.50,331.76 L469.00,332.10 L469.50,332.44 L470.00,332.79 L470.50,333.14 L471.00,333.50 L471.50,333.87 L472.00,334.24 L472.50,334.61 L473.00,334.99 L473.50,335.37 L474.00,335.75 L474.50,336.14 L475.00,336.53 L475.50,336.92 L476.00,337.32 L476.50,337.72 L477.00,338.12 L477.50,338.53 L478.00,338.95 L478.50,339.39 L479.00,339.85 L479.50,340.31 L480.00,340.78 L480.50,341.25 L481.00,341.73 L481.50,342.21 L482.00,342.68 L482.50,343.15 L483.00,343.61 L483.50,344.07 L484.00,344.51 L484.50,344.93 L485.00,345.34 L485.50,345.73 L486.00,346.09 L486.50,346.43 L487.00,346.76 L487.50,347.08 L488.00,347.39 L488.50,347.69 L489.00,347.98 L489.50,348.27 L490.00,348.55 L490.50,348.82 L491.00,349.09 L491.50,349.35 L492.00,349.61 L492.50,349.86 L493.00,350.11 L493.50,350.36 L494.00,350.61 L494.50,350.86 L495.00,351.10 L495.50,351.35 L496.00,351.60 L496.50,351.83 L497.00,352.06 L497.50,352.29 L498.00,352.51 L498.50,352.72 L499.00,352.94 L499.50,353.15 L500.00,353.36 L500.50,353.57 L501.00,353.78 L501.50,354.00 L502.00,354.21 L502.50,354.44 L503.00,354.67 L503.50,354.90 L504.00,355.14 L504.50,355.39 L505.00,355.65 L505.50,355.92 L506.00,356.21 L506.50,356.50 L507.00,356.80 L507.50,357.10 L508.00,357.41 L508.50,357.73 L509.00,358.06 L509.50,358.38 L510.00,358.71 L510.50,359.05 L511.00,359.38 L511.50,359.71 L512.00,360.04 L512.50,360.37 L513.00,360.70 L513.50,361.02 L514.00,361.34 L514.50,361.65 L515.00,361.97 L515.50,362.28 L516.00,362.60 L516.50,362.92 L517.00,363.24 L517.50,363.56 L518.00,363.87 L518.50,364.19 L519.00,364.51 L519.50,364.82 L520.00,365.14 L520.50,365.45 L521.00,365.76 L521.50,366.06 L522.00,366.37 L522.50,366.67 L523.00,366.97 L523.50,367.26 L524.00,367.55 L524.50,367.83 L525.00,368.11 L525.50,368.39 L526.00,368.67 L526.50,368.94 L527.00,369.21 L527.50,369.48 L528.00,369.75 L528.50,370.02 L529.00,370.28 L529.50,370.55 L530.00,370.82 L530.50,371.09 L531.00,371.36 L531.50,371.63 L532.00,371.91 L532.50,372.19 L533.00,372.47 L533.50,372.76 L534.00,373.05 L534.50,373.35 L535.00,373.66 L535.50,373.97 L536.00,374.27 L536.50,374.58 L537.00,374.89 L537.50,375.19 L538.00,375.50 L538.50,375.79 L539.00,376.08 L539.50,376.37 L540.00,376.65 L540.50,376.91 L541.00,377.17 L541.50,377.41 L542.00,377.65 L542.50,377.87 L543.00,378.10 L543.50,378.32 L544.00,378.55 L544.50,378.77 L545.00,378.98 L545.50,379.19 L546.00,379.40 L546.50,379.60 L547.00,379.80 L547.50,379.98 L548.00,380.16 L548.50,380.34 L549.00,380.50 L549.50,380.65 L550.00,380.80 L550.50,380.93 L551.00,381.05 L551.50,381.17 L552.00,381.27 L552.50,381.37 L553.00,381.46 L553.50,381.55 L554.00,381.63 L554.50,381.71 L555.00,381.78 L555.50,381.86 L556.00,381.93 L556.50,382.00 L557.00,382.07 L557.50,382.13 L558.00,382.20 L558.50,382.27 L559.00,382.35 L559.50,382.42 L560.00,382.50 L560.50,382.58 L561.00,382.66 L561.50,382.73 L562.00,382.80 L562.50,382.88 L563.00,382.95 L563.50,383.02 L564.00,383.09 L564.50,383.16 L565.00,383.24 L565.50,383.31 L566.00,383.38 L566.50,383.46 L567.00,383.54 L567.50,383.61 L568.00,383.69 L568.50,383.78 L569.00,383.86 L569.50,383.95 L570.00,384.04 L570.50,384.14 L571.00,384.24 L571.50,384.34 L572.00,384.45 L572.50,384.57 L573.00,384.69 L573.50,384.82 L574.00,384.95 L574.50,385.08 L575.00,385.23 L575.50,385.37 L576.00,385.52 L576.50,385.67 L577.00,385.83 L577.50,385.99 L578.00,386.15 L578.50,386.31 L579.00,386.48 L579.50,386.65 L580.00,386.81 L580.50,386.98 L581.00,387.15 L581.50,387.32 L582.00,387.50 L582.50,387.67 L583.00,387.83 L583.50,388.00 L584.00,388.17 L584.50,388.34 L585.00,388.50 L585.50,388.67 L586.00,388.84 L586.50,389.01 L587.00,389.19 L587.50,389.37 L588.00,389.56 L588.50,389.75 L589.00,389.94 L589.50,390.13 L590.00,390.32 L590.50,390.51 L591.00,390.70 L591.50,390.89 L592.00,391.08 L592.50,391.27 L593.00,391.45 L593.50,391.63 L594.00,391.80 L594.50,391.98 L595.00,392.14 L595.50,392.30 L596.00,392.46 L596.50,392.60 L597.00,392.74 L597.50,392.88 L598.00,393.00 L598.50,393.12 L599.00,393.24 L599.50,393.36 L600.00,393.48 L600.50,393.60 L601.00,393.71 L601.50,393.83 L602.00,393.95 L602.50,394.07 L603.00,394.18 L603.50,394.29 L604.00,394.41 L604.50,394.52 L605.00,394.63 L605.50,394.73 L606.00,394.84 L606.50,394.94 L607.00,395.04 L607.50,395.14 L608.00,395.23 L608.50,395.33 L609.00,395.41 L609.50,395.50 L610.00,395.58 L610.50,395.66 L611.00,395.74 L611.50,395.81 L612.00,395.88 L612.50,395.94 L613.00,396.00 L613.50,396.06 L614.00,396.11 L614.50,396.16 L615.00,396.20 L615.50,396.23 L616.00,396.27 L616.50,396.29 L617.00,396.31 L617.50,396.33 L618.00,396.35 L618.50,396.37 L619.00,396.38 L619.50,396.40 L620.00,396.42 L620.50,396.43 L621.00,396.44 L621.50,396.45 L622.00,396.47 L622.50,396.48 L623.00,396.49 L623.50,396.50 L624.00,396.51 L624.50,396.52 L625.00,396.52 L625.50,396.53 L626.00,396.54 L626.50,396.55 L627.00,396.56 L627.50,396.56 L628.00,396.57 L628.50,396.58 L629.00,396.59 L629.50,396.59 L630.00,396.60 L630.50,396.61 L631.00,396.62 L631.50,396.63 L632.00,396.64 L632.50,396.65 L633.00,396.66 L633.50,396.67 L634.00,396.68 L634.50,396.69 L635.00,396.70 L635.50,396.72 L636.00,396.73 L636.50,396.75 L637.00,396.76 L637.50,396.78 L638.00,396.80 L638.50,396.82 L639.00,396.85 L639.50,396.88 L640.00,396.91 L640.50,396.94 L641.00,396.98 L641.50,397.03 L642.00,397.07 L642.50,397.12 L643.00,397.17 L643.50,397.22 L644.00,397.28 L644.50,397.34 L645.00,397.40 L645.50,397.46 L646.00,397.52 L646.50,397.59 L647.00,397.65 L647.50,397.72 L648.00,397.79 L648.50,397.86 L649.00,397.92 L649.50,397.99 L650.00,398.06 L650.50,398.13 L651.00,398.21 L651.50,398.28 L652.00,398.34 L652.50,398.41 L653.00,398.48 L653.50,398.55 L654.00,398.62 L654.50,398.68 L655.00,398.75 L655.50,398.81 L656.00,398.87 L656.50,398.93 L657.00,398.98 L657.50,399.04 L658.00,399.09 L658.50,399.14 L659.00,399.19 L659.50,399.23 L660.00,399.27 L660.50,399.31 L661.00,399.34 L661.50,399.37 L662.00,399.40 L662.50,399.42 L663.00,399.45 L663.50,399.47 L664.00,399.50 L664.50,399.52 L665.00,399.54 L665.50,399.56 L666.00,399.59 L666.50,399.61 L667.00,399.63 L667.50,399.65 L668.00,399.67 L668.50,399.69 L669.00,399.71 L669.50,399.73 L670.00,399.75 L670.50,399.76 L671.00,399.78 L671.50,399.80 L672.00,399.82 L672.50,399.83 L673.00,399.85 L673.50,399.86 L674.00,399.88 L674.50,399.89 L675.00,399.91 L675.50,399.92 L676.00,399.94 L676.50,399.95 L677.00,399.96 L677.50,399.98 L678.00,399.99 L678.50,400.00 L679.00,400.01 L679.50,400.02 L680.00,400.04 L680.50,400.05 L681.00,400.06 L681.50,400.07 L682.00,400.08 L682.50,400.09 L683.00,400.09 L683.50,400.10 L684.00,400.11 L684.50,400.12 L685.00,400.13 L685.50,400.14 L686.00,400.15 L686.50,400.15 L687.00,400.16 L687.50,400.17 L688.00,400.18 L688.50,400.19 L689.00,400.19 L689.50,400.20 L690.00,400.21 L690.50,400.21 L691.00,400.22 L691.50,400.23 L692.00,400.23 L692.50,400.24 L693.00,400.25 L693.50,400.25 L694.00,400.26 L694.50,400.26 L695.00,400.27 L695.50,400.27 L696.00,400.28 L696.50,400.28 L697.00,400.28 L697.50,400.29 L698.00,400.29 L698.50,400.29 L699.00,400.30 L699.50,400.30 L700.00,400.30" fill="none" stroke="#4A62E0" stroke-width="1.1"/>
<line x1="89.48" y1="244.40" x2="89.48" y2="400.30" stroke="#707070" stroke-width="1.6" stroke-dasharray="6.1 3.3" stroke-dashoffset="1.0"/>
<line x1="104.26" y1="244.40" x2="104.26" y2="400.30" stroke="#707070" stroke-width="1.6" stroke-dasharray="6.1 3.3" stroke-dashoffset="1.0"/>
<line x1="222.54" y1="244.40" x2="222.54" y2="400.30" stroke="#707070" stroke-width="1.6" stroke-dasharray="6.1 3.3" stroke-dashoffset="1.0"/>
<line x1="237.32" y1="244.40" x2="237.32" y2="400.30" stroke="#707070" stroke-width="1.6" stroke-dasharray="6.1 3.3" stroke-dashoffset="1.0"/>
<line x1="252.11" y1="244.40" x2="252.11" y2="400.30" stroke="#707070" stroke-width="1.6" stroke-dasharray="6.1 3.3" stroke-dashoffset="1.0"/>
<line x1="266.89" y1="244.40" x2="266.89" y2="400.30" stroke="#707070" stroke-width="1.6" stroke-dasharray="6.1 3.3" stroke-dashoffset="1.0"/>
<line x1="311.25" y1="244.40" x2="311.25" y2="400.30" stroke="#707070" stroke-width="1.6" stroke-dasharray="6.1 3.3" stroke-dashoffset="1.0"/>
<line x1="326.03" y1="244.40" x2="326.03" y2="400.30" stroke="#707070" stroke-width="1.6" stroke-dasharray="6.1 3.3" stroke-dashoffset="1.0"/>
<line x1="533.02" y1="243.90" x2="533.02" y2="400.30" stroke="#E02424" stroke-width="2" />
<rect x="40.5" y="243.9" width="704.8" height="156.4" fill="none" stroke="#6E6E6E" stroke-width="1.2"/>
<line x1="40.50" y1="243.30" x2="40.50" y2="400.90" stroke="#333" stroke-width="1.2" />
<line x1="39.90" y1="400.30" x2="745.90" y2="400.30" stroke="#333" stroke-width="1.3" />
<path d="M93.00,400.10 L93.50,400.10 L94.00,400.10 L94.50,400.10 L95.00,400.10 L95.50,400.10 L96.00,400.10 L96.50,400.10 L97.00,400.10 L97.50,400.10 L98.00,400.10 L98.50,400.10 L99.00,400.10 L99.50,400.10 L100.00,400.10 L100.50,400.10 L101.00,400.10 L101.50,400.10 L102.00,400.10 L102.50,400.10 L103.00,400.10 L103.50,400.10 L104.00,400.09 L104.50,400.09 L105.00,400.09 L105.50,400.09 L106.00,400.09 L106.50,400.09 L107.00,400.09 L107.50,400.09 L108.00,400.09 L108.50,400.09 L109.00,400.09 L109.50,400.09 L110.00,400.09 L110.50,400.09 L111.00,400.08 L111.50,400.08 L112.00,400.08 L112.50,400.08 L113.00,400.08 L113.50,400.08 L114.00,400.08 L114.50,400.08 L115.00,400.08 L115.50,400.08 L116.00,400.07 L116.50,400.07 L117.00,400.07 L117.50,400.07 L118.00,400.07 L118.50,400.07 L119.00,400.07 L119.50,400.06 L120.00,400.06 L120.50,400.06 L121.00,400.06 L121.50,400.06 L122.00,400.06 L122.50,400.06 L123.00,400.05 L123.50,400.05 L124.00,400.05 L124.50,400.05 L125.00,400.05 L125.50,400.04 L126.00,400.04 L126.50,400.04 L127.00,400.04 L127.50,400.04 L128.00,400.03 L128.50,400.03 L129.00,400.03 L129.50,400.03 L130.00,400.03 L130.50,400.02 L131.00,400.02 L131.50,400.02 L132.00,400.02 L132.50,400.01 L133.00,400.01 L133.50,400.01 L134.00,400.01 L134.50,400.00 L135.00,400.00 L135.50,400.00 L136.00,400.00 L136.50,399.99 L137.00,399.99 L137.50,399.99 L138.00,399.98 L138.50,399.98 L139.00,399.98 L139.50,399.98 L140.00,399.97 L140.50,399.97 L141.00,399.97 L141.50,399.96 L142.00,399.96 L142.50,399.96 L143.00,399.95 L143.50,399.95 L144.00,399.95 L144.50,399.94 L145.00,399.94 L145.50,399.93 L146.00,399.93 L146.50,399.93 L147.00,399.92 L147.50,399.92 L148.00,399.92 L148.50,399.91 L149.00,399.91 L149.50,399.90 L150.00,399.90 L150.50,399.89 L151.00,399.89 L151.50,399.87 L152.00,399.86 L152.50,399.84 L153.00,399.82 L153.50,399.80 L154.00,399.78 L154.50,399.75 L155.00,399.73 L155.50,399.70 L156.00,399.67 L156.50,399.64 L157.00,399.61 L157.50,399.57 L158.00,399.54 L158.50,399.51 L159.00,399.47 L159.50,399.44 L160.00,399.40 L160.50,399.36 L161.00,399.32 L161.50,399.28 L162.00,399.23 L162.50,399.18 L163.00,399.12 L163.50,399.06 L164.00,399.00 L164.50,398.94 L165.00,398.87 L165.50,398.81 L166.00,398.74 L166.50,398.66 L167.00,398.59 L167.50,398.52 L168.00,398.44 L168.50,398.37 L169.00,398.29 L169.50,398.21 L170.00,398.14 L170.50,398.06 L171.00,397.98 L171.50,397.91 L172.00,397.83 L172.50,397.76 L173.00,397.68 L173.50,397.61 L174.00,397.54 L174.50,397.47 L175.00,397.40" fill="none" stroke="#4A62E0" stroke-width="1.1"/>
<text x="35.00" y="260.35" font-family='"Liberation Sans", sans-serif' font-size="10.8" font-weight="bold" font-style="normal" fill="#111" text-anchor="end" stroke="#111" stroke-width="0.25" >0.05</text>
<text x="35.00" y="289.10" font-family='"Liberation Sans", sans-serif' font-size="10.8" font-weight="bold" font-style="normal" fill="#111" text-anchor="end" stroke="#111" stroke-width="0.25" >0.04</text>
<text x="35.00" y="317.85" font-family='"Liberation Sans", sans-serif' font-size="10.8" font-weight="bold" font-style="normal" fill="#111" text-anchor="end" stroke="#111" stroke-width="0.25" >0.03</text>
<text x="35.00" y="346.60" font-family='"Liberation Sans", sans-serif' font-size="10.8" font-weight="bold" font-style="normal" fill="#111" text-anchor="end" stroke="#111" stroke-width="0.25" >0.02</text>
<text x="35.00" y="375.35" font-family='"Liberation Sans", sans-serif' font-size="10.8" font-weight="bold" font-style="normal" fill="#111" text-anchor="end" stroke="#111" stroke-width="0.25" >0.01</text>
<text x="35.00" y="404.10" font-family='"Liberation Sans", sans-serif' font-size="10.8" font-weight="bold" font-style="normal" fill="#111" text-anchor="end" stroke="#111" stroke-width="0.25" >0.00</text>
<text x="0.00" y="0.00" font-family='"Liberation Sans", sans-serif' font-size="11.2" font-weight="bold" font-style="normal" fill="#111" text-anchor="middle" stroke="#111" stroke-width="0.25" transform="translate(11.3,323) rotate(-90)">Density</text>
<text x="163.40" y="414.80" font-family='"Liberation Sans", sans-serif' font-size="10.5" font-weight="bold" font-style="normal" fill="#111" text-anchor="middle" stroke="#111" stroke-width="0.25" >40</text>
<text x="311.25" y="414.80" font-family='"Liberation Sans", sans-serif' font-size="10.5" font-weight="bold" font-style="normal" fill="#111" text-anchor="middle" stroke="#111" stroke-width="0.25" >50</text>
<text x="459.10" y="414.80" font-family='"Liberation Sans", sans-serif' font-size="10.5" font-weight="bold" font-style="normal" fill="#111" text-anchor="middle" stroke="#111" stroke-width="0.25" >60</text>
<text x="606.95" y="414.80" font-family='"Liberation Sans", sans-serif' font-size="10.5" font-weight="bold" font-style="normal" fill="#111" text-anchor="middle" stroke="#111" stroke-width="0.25" >70</text>
<text x="392.80" y="428.00" font-family='"Liberation Sans", sans-serif' font-size="11.1" font-weight="bold" font-style="normal" fill="#111" text-anchor="middle" stroke="#111" stroke-width="0.25" >Drug target</text>
<text x="41.50" y="255.30" font-family='"Liberation Sans", sans-serif' font-size="11.2" font-weight="bold" font-style="normal" fill="#111" text-anchor="start" stroke="#111" stroke-width="0.25" >Eigenvector</text>
<text x="41.50" y="265.90" font-family='"Liberation Sans", sans-serif' font-size="9.5" font-weight="bold" font-style="normal" fill="#E67E22" text-anchor="start" stroke="#E67E22" stroke-width="0.25" >Z:-3.60</text>
<text x="41.50" y="276.50" font-family='"Liberation Sans", sans-serif' font-size="9.5" font-weight="bold" font-style="normal" fill="#E67E22" text-anchor="start" stroke="#E67E22" stroke-width="0.25" >P:&lt;0.01</text>
<polygon points="76.81,283.95 85.65,275.97 86.82,277.27 88.80,270.50 81.87,271.77 83.04,273.07 74.19,281.05" fill="#1DAA50"/>
<text x="222.60" y="270.20" font-family='"Liberation Sans", sans-serif' font-size="11.2" font-weight="bold" font-style="normal" fill="#111" text-anchor="end" stroke="#111" stroke-width="0.25" >Page rank</text>
<text x="222.60" y="281.70" font-family='"Liberation Sans", sans-serif' font-size="9.5" font-weight="bold" font-style="normal" fill="#E67E22" text-anchor="end" stroke="#E67E22" stroke-width="0.25" >Z:-1.89 P:0.06</text>
<polygon points="223.25,267.95 233.26,263.08 234.03,264.65 237.80,258.70 230.79,258.00 231.55,259.57 221.55,264.45" fill="#1DAA50"/>
<text x="274.10" y="286.20" font-family='"Liberation Sans", sans-serif' font-size="11.2" font-weight="bold" font-style="normal" fill="#111" text-anchor="start" stroke="#111" stroke-width="0.25" >K-core</text>
<text x="273.40" y="296.80" font-family='"Liberation Sans", sans-serif' font-size="9.5" font-weight="bold" font-style="normal" fill="#E67E22" text-anchor="start" stroke="#E67E22" stroke-width="0.25" >Z:-1.72</text>
<text x="273.40" y="307.40" font-family='"Liberation Sans", sans-serif' font-size="9.5" font-weight="bold" font-style="normal" fill="#E67E22" text-anchor="start" stroke="#E67E22" stroke-width="0.25" >P:0.09</text>
<polygon points="271.36,285.46 258.33,289.99 257.75,288.34 253.30,293.80 260.18,295.32 259.61,293.67 272.64,289.14" fill="#1DAA50"/>
<text x="117.30" y="320.20" font-family='"Liberation Sans", sans-serif' font-size="10.6" font-weight="bold" font-style="normal" fill="#111" text-anchor="start" stroke="#111" stroke-width="0.25" >Average neighbor</text>
<text x="117.30" y="330.90" font-family='"Liberation Sans", sans-serif' font-size="10.6" font-weight="bold" font-style="normal" fill="#111" text-anchor="start" stroke="#111" stroke-width="0.25" >degree, Clustering</text>
<text x="117.30" y="342.00" font-family='"Liberation Sans", sans-serif' font-size="9.5" font-weight="bold" font-style="normal" fill="#E67E22" text-anchor="start" stroke="#E67E22" stroke-width="0.25" >Z:-2.06</text>
<text x="117.30" y="352.40" font-family='"Liberation Sans", sans-serif' font-size="9.5" font-weight="bold" font-style="normal" fill="#E67E22" text-anchor="start" stroke="#E67E22" stroke-width="0.25" >P:0.04</text>
<polygon points="209.30,328.45 217.00,328.45 217.00,330.20 223.00,326.50 217.00,322.80 217.00,324.55 209.30,324.55" fill="#1DAA50"/>
<text x="121.30" y="376.60" font-family='"Liberation Sans", sans-serif' font-size="11.2" font-weight="bold" font-style="normal" fill="#111" text-anchor="start" stroke="#111" stroke-width="0.25" >Closeness</text>
<text x="121.30" y="387.20" font-family='"Liberation Sans", sans-serif' font-size="9.5" font-weight="bold" font-style="normal" fill="#E67E22" text-anchor="start" stroke="#E67E22" stroke-width="0.25" >Z:-3.43</text>
<text x="121.30" y="397.80" font-family='"Liberation Sans", sans-serif' font-size="9.5" font-weight="bold" font-style="normal" fill="#E67E22" text-anchor="start" stroke="#E67E22" stroke-width="0.25" >P:&lt;0.01</text>
<polygon points="118.90,381.65 112.00,381.65 112.00,379.90 106.00,383.60 112.00,387.30 112.00,385.55 118.90,385.55" fill="#1DAA50"/>
<text x="280.00" y="338.20" font-family='"Liberation Sans", sans-serif' font-size="11.2" font-weight="bold" font-style="normal" fill="#111" text-anchor="start" stroke="#111" stroke-width="0.25" >Degree</text>
<text x="282.70" y="348.80" font-family='"Liberation Sans", sans-serif' font-size="9.5" font-weight="bold" font-style="normal" fill="#E67E22" text-anchor="start" stroke="#E67E22" stroke-width="0.25" >Z:-1.55</text>
<text x="282.70" y="359.40" font-family='"Liberation Sans", sans-serif' font-size="9.5" font-weight="bold" font-style="normal" fill="#E67E22" text-anchor="start" stroke="#E67E22" stroke-width="0.25" >P:0.12</text>
<polygon points="279.61,344.36 272.25,348.13 271.46,346.57 267.80,352.60 274.83,353.16 274.03,351.60 281.39,347.84" fill="#1DAA50"/>
<text x="328.80" y="252.80" font-family='"Liberation Sans", sans-serif' font-size="11.2" font-weight="bold" font-style="normal" fill="#111" text-anchor="start" stroke="#111" stroke-width="0.25" >Load</text>
<text x="328.80" y="263.40" font-family='"Liberation Sans", sans-serif' font-size="9.5" font-weight="bold" font-style="normal" fill="#E67E22" text-anchor="start" stroke="#E67E22" stroke-width="0.25" >Z:-1.04</text>
<text x="328.80" y="274.00" font-family='"Liberation Sans", sans-serif' font-size="9.5" font-weight="bold" font-style="normal" fill="#E67E22" text-anchor="start" stroke="#E67E22" stroke-width="0.25" >P:0.30</text>
<polygon points="325.30,259.55 317.00,259.55 317.00,257.80 311.00,261.50 317.00,265.20 317.00,263.45 325.30,263.45" fill="#1DAA50"/>
<text x="340.50" y="371.30" font-family='"Liberation Sans", sans-serif' font-size="11.2" font-weight="bold" font-style="normal" fill="#111" text-anchor="start" stroke="#111" stroke-width="0.25" >Betweenness</text>
<text x="342.00" y="381.90" font-family='"Liberation Sans", sans-serif' font-size="9.5" font-weight="bold" font-style="normal" fill="#E67E22" text-anchor="start" stroke="#E67E22" stroke-width="0.25" >Z:-0.86</text>
<text x="342.60" y="392.50" font-family='"Liberation Sans", sans-serif' font-size="9.5" font-weight="bold" font-style="normal" fill="#E67E22" text-anchor="start" stroke="#E67E22" stroke-width="0.25" >P:0.39</text>
<polygon points="340.20,377.25 331.70,377.25 331.70,375.50 325.70,379.20 331.70,382.90 331.70,381.15 340.20,381.15" fill="#1DAA50"/>
<text x="401.50" y="254.60" font-family='"Liberation Sans", sans-serif' font-size="11.2" font-weight="bold" font-style="normal" fill="#111" text-anchor="start" stroke="#111" stroke-width="0.25" >All driver nodes</text>
<text x="401.50" y="265.20" font-family='"Liberation Sans", sans-serif' font-size="9.5" font-weight="bold" font-style="normal" fill="#E67E22" text-anchor="start" stroke="#E67E22" stroke-width="0.25" >Mean:54.07</text>
<text x="401.50" y="275.80" font-family='"Liberation Sans", sans-serif' font-size="9.5" font-weight="bold" font-style="normal" fill="#E67E22" text-anchor="start" stroke="#E67E22" stroke-width="0.25" >χ2:909.62&#160; P:0.98</text>
<polygon points="395.78,264.88 390.18,267.86 389.36,266.32 385.80,272.40 392.83,272.85 392.01,271.30 397.62,268.32" fill="#1DAA50"/>
<text x="472.40" y="316.80" font-family='"Liberation Sans", sans-serif' font-size="11.2" font-weight="bold" font-style="normal" fill="#B3202A" text-anchor="start" stroke="#B3202A" stroke-width="0.25" >Baseline</text>
<text x="472.40" y="327.40" font-family='"Liberation Sans", sans-serif' font-size="9.5" font-weight="bold" font-style="normal" fill="#E67E22" text-anchor="start" stroke="#E67E22" stroke-width="0.25" >Mean:56.05</text>
<polygon points="487.16,329.60 482.09,333.78 480.97,332.43 478.70,339.10 485.68,338.14 484.57,336.79 489.64,332.60" fill="#1DAA50"/>
<text x="549.00" y="336.20" font-family='"Liberation Sans", sans-serif' font-size="11.2" font-weight="bold" font-style="normal" fill="#B3202A" text-anchor="start" stroke="#B3202A" stroke-width="0.25" >Control hubs</text>
<text x="551.30" y="346.80" font-family='"Liberation Sans", sans-serif' font-size="9.5" font-weight="bold" font-style="normal" fill="#E67E22" text-anchor="start" stroke="#E67E22" stroke-width="0.25" >Z:1.53</text>
<text x="551.30" y="357.40" font-family='"Liberation Sans", sans-serif' font-size="9.5" font-weight="bold" font-style="normal" fill="#E67E22" text-anchor="start" stroke="#E67E22" stroke-width="0.25" >P:0.13</text>
<polygon points="547.70,340.95 540.30,340.95 540.30,339.20 534.30,342.90 540.30,346.60 540.30,344.85 547.70,344.85" fill="#1DAA50"/>
<rect x="614.5" y="250.4" width="125.2" height="40.9" rx="3" fill="#fff" fill-opacity="0.85" stroke="#DADADA" stroke-width="0.8"/>
<rect x="618.80" y="255.90" width="24.00" height="9.60" fill="#BBC7F8" stroke="#4A62E0" stroke-width="1" />
<rect x="618.80" y="274.50" width="24.00" height="9.60" fill="#FDDBBB" stroke="#E8A070" stroke-width="1" />
<text x="652.70" y="264.90" font-family='"Liberation Sans", sans-serif' font-size="11.8" font-weight="normal" font-style="normal" fill="#333" text-anchor="start" >All nodes</text>
<text x="652.70" y="283.60" font-family='"Liberation Sans", sans-serif' font-size="11.8" font-weight="normal" font-style="normal" fill="#333" text-anchor="start" >All driver nodes</text>
</svg>
</body></html>
